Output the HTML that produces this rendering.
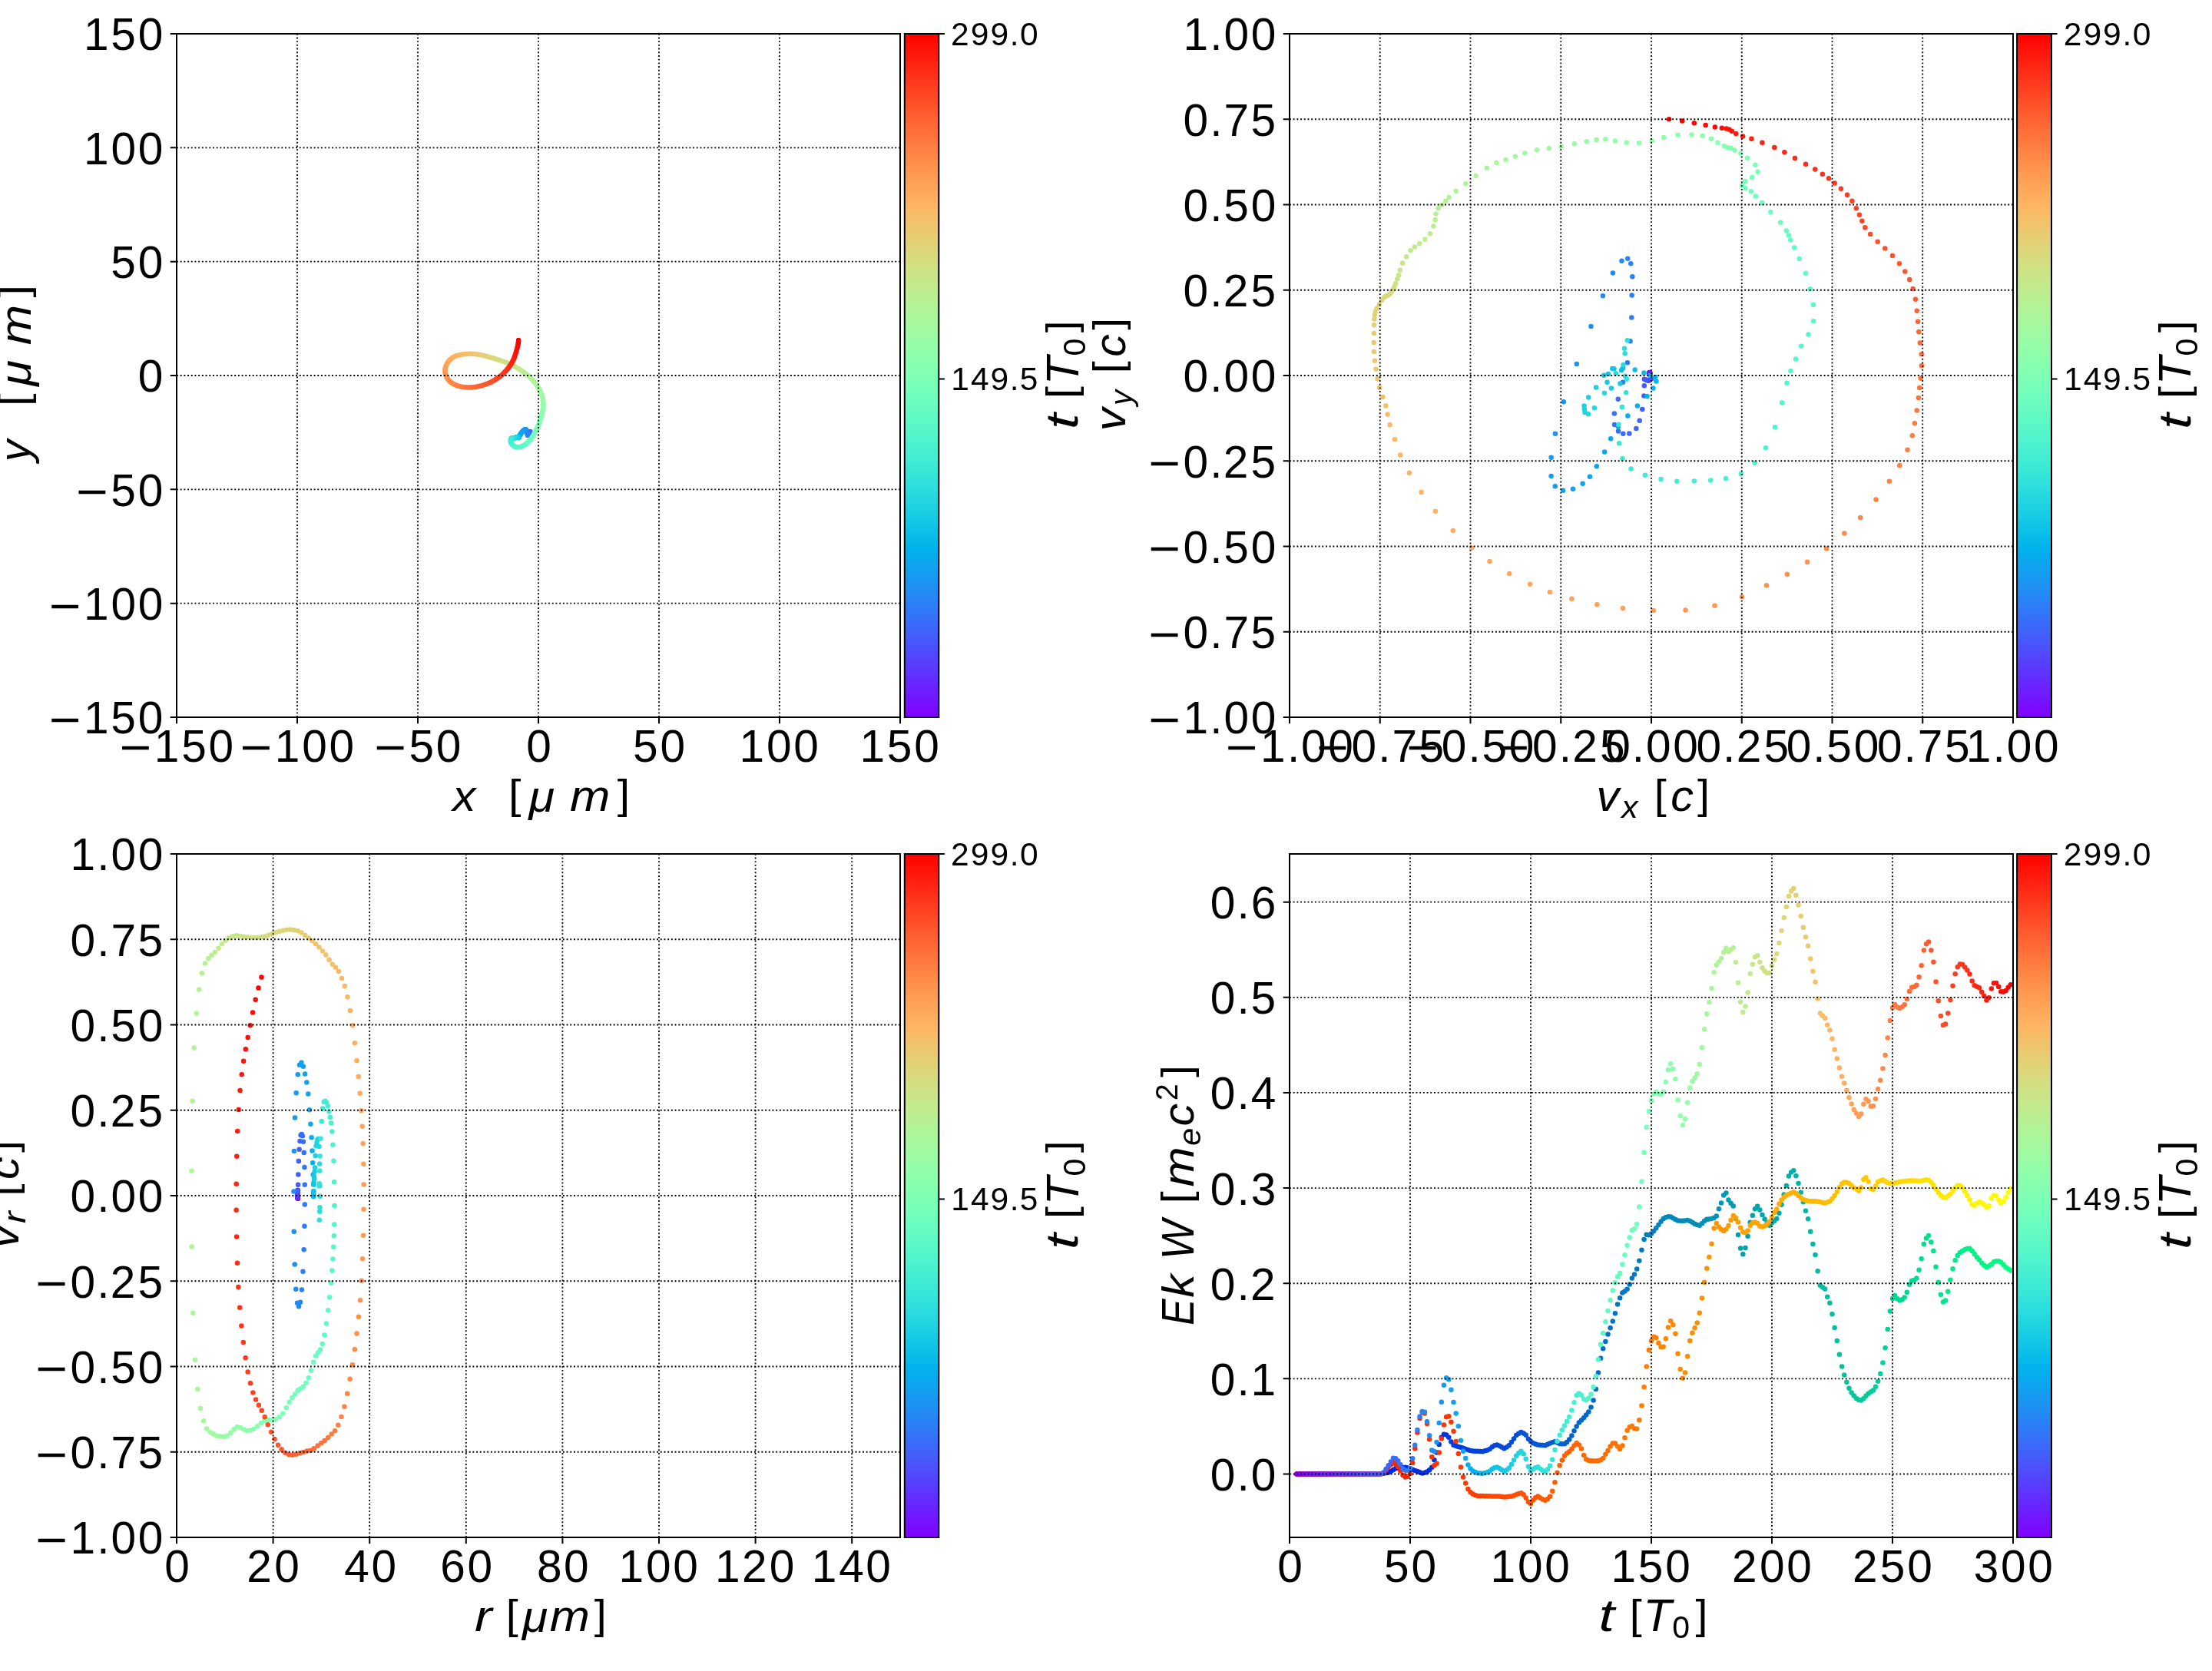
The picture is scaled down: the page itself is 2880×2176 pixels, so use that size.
<!DOCTYPE html>
<html lang="en"><head><meta charset="utf-8"><title>Particle trajectory, velocity and energy</title>
<style>
html,body{margin:0;padding:0;background:#fff}
body{width:2880px;height:2176px;overflow:hidden;font-family:"Liberation Sans",sans-serif}
svg{display:block;will-change:transform}
.grid{fill:none;stroke:#000;stroke-width:1.8;stroke-dasharray:1.9 2.8}
.tick{fill:none;stroke:#000;stroke-width:2}
.spine{stroke:#000;stroke-width:2}
rect.spine:not([fill]){fill:none}
text{white-space:pre}
</style></head>
<body>
<svg width="2880" height="2176" viewBox="0 0 2880 2176" font-family="'Liberation Sans', sans-serif" fill="#000">
<defs><linearGradient id="rb" x1="0" y1="0" x2="0" y2="1"><stop offset="0.00000" stop-color="#ff0000"/><stop offset="0.01562" stop-color="#ff0d06"/><stop offset="0.03125" stop-color="#ff190d"/><stop offset="0.04688" stop-color="#ff2513"/><stop offset="0.06250" stop-color="#ff3219"/><stop offset="0.07812" stop-color="#ff3e1f"/><stop offset="0.09375" stop-color="#ff4a25"/><stop offset="0.10938" stop-color="#ff562c"/><stop offset="0.12500" stop-color="#ff6232"/><stop offset="0.14062" stop-color="#ff6d38"/><stop offset="0.15625" stop-color="#ff783e"/><stop offset="0.17188" stop-color="#ff8344"/><stop offset="0.18750" stop-color="#ff8e4a"/><stop offset="0.20312" stop-color="#ff9850"/><stop offset="0.21875" stop-color="#ffa256"/><stop offset="0.23438" stop-color="#ffab5c"/><stop offset="0.25000" stop-color="#ffb462"/><stop offset="0.26562" stop-color="#f7bd67"/><stop offset="0.28125" stop-color="#efc56d"/><stop offset="0.29688" stop-color="#e7cd73"/><stop offset="0.31250" stop-color="#dfd478"/><stop offset="0.32812" stop-color="#d7db7e"/><stop offset="0.34375" stop-color="#cfe183"/><stop offset="0.35938" stop-color="#c7e788"/><stop offset="0.37500" stop-color="#bfec8e"/><stop offset="0.39062" stop-color="#b7f093"/><stop offset="0.40625" stop-color="#aff498"/><stop offset="0.42188" stop-color="#a7f79d"/><stop offset="0.43750" stop-color="#9ffaa2"/><stop offset="0.45312" stop-color="#97fca7"/><stop offset="0.46875" stop-color="#8ffeab"/><stop offset="0.48438" stop-color="#87ffb0"/><stop offset="0.50000" stop-color="#80ffb4"/><stop offset="0.51562" stop-color="#78ffb9"/><stop offset="0.53125" stop-color="#70febd"/><stop offset="0.54688" stop-color="#68fcc1"/><stop offset="0.56250" stop-color="#60fac5"/><stop offset="0.57812" stop-color="#58f7c9"/><stop offset="0.59375" stop-color="#50f4cd"/><stop offset="0.60938" stop-color="#48f0d0"/><stop offset="0.62500" stop-color="#40ecd4"/><stop offset="0.64062" stop-color="#38e7d7"/><stop offset="0.65625" stop-color="#30e1db"/><stop offset="0.67188" stop-color="#28dbde"/><stop offset="0.68750" stop-color="#20d4e1"/><stop offset="0.70312" stop-color="#18cde4"/><stop offset="0.71875" stop-color="#10c5e7"/><stop offset="0.73438" stop-color="#08bde9"/><stop offset="0.75000" stop-color="#00b4ec"/><stop offset="0.76562" stop-color="#08abee"/><stop offset="0.78125" stop-color="#10a2f0"/><stop offset="0.79688" stop-color="#1898f2"/><stop offset="0.81250" stop-color="#208ef4"/><stop offset="0.82812" stop-color="#2883f6"/><stop offset="0.84375" stop-color="#3078f7"/><stop offset="0.85938" stop-color="#386df9"/><stop offset="0.87500" stop-color="#4062fa"/><stop offset="0.89062" stop-color="#4856fb"/><stop offset="0.90625" stop-color="#504afc"/><stop offset="0.92188" stop-color="#583efd"/><stop offset="0.93750" stop-color="#6032fe"/><stop offset="0.95312" stop-color="#6825fe"/><stop offset="0.96875" stop-color="#7019ff"/><stop offset="0.98438" stop-color="#780dff"/><stop offset="1.00000" stop-color="#8000ff"/></linearGradient></defs>
<g id="ax1">
<g class="pts">
<circle cx="690.27" cy="562.88" r="3.25" fill="#8000ff"/>
<circle cx="690.25" cy="562.85" r="3.25" fill="#7e03ff"/>
<circle cx="690.23" cy="562.83" r="3.25" fill="#7c05ff"/>
<circle cx="690.22" cy="562.8" r="3.25" fill="#7a08ff"/>
<circle cx="690.21" cy="562.78" r="3.25" fill="#790bff"/>
<circle cx="690.19" cy="562.75" r="3.25" fill="#770eff"/>
<circle cx="690.18" cy="562.73" r="3.25" fill="#7510ff"/>
<circle cx="690.17" cy="562.71" r="3.25" fill="#7313ff"/>
<circle cx="690.15" cy="562.69" r="3.25" fill="#7216ff"/>
<circle cx="690.13" cy="562.67" r="3.25" fill="#7018ff"/>
<circle cx="690.12" cy="562.65" r="3.25" fill="#6e1bff"/>
<circle cx="690.11" cy="562.63" r="3.25" fill="#6d1eff"/>
<circle cx="690.1" cy="562.61" r="3.25" fill="#6b20fe"/>
<circle cx="690.08" cy="562.59" r="3.25" fill="#6923fe"/>
<circle cx="690.07" cy="562.58" r="3.25" fill="#6726fe"/>
<circle cx="690.05" cy="562.56" r="3.25" fill="#6628fe"/>
<circle cx="690.04" cy="562.55" r="3.25" fill="#642bfe"/>
<circle cx="690.02" cy="562.53" r="3.25" fill="#622efe"/>
<circle cx="690.01" cy="562.52" r="3.25" fill="#6030fe"/>
<circle cx="690" cy="562.52" r="3.25" fill="#5f33fe"/>
<circle cx="689.99" cy="562.51" r="3.25" fill="#5d36fe"/>
<circle cx="689.98" cy="562.52" r="3.25" fill="#5b38fd"/>
<circle cx="689.97" cy="562.52" r="3.25" fill="#5a3bfd"/>
<circle cx="689.97" cy="562.53" r="3.25" fill="#583efd"/>
<circle cx="689.96" cy="562.55" r="3.25" fill="#5640fd"/>
<circle cx="689.96" cy="562.57" r="3.25" fill="#5443fd"/>
<circle cx="689.96" cy="562.59" r="3.25" fill="#5345fd"/>
<circle cx="689.96" cy="562.61" r="3.25" fill="#5148fc"/>
<circle cx="689.95" cy="562.65" r="3.25" fill="#4f4bfc"/>
<circle cx="689.93" cy="562.69" r="3.25" fill="#4e4dfc"/>
<circle cx="689.91" cy="562.73" r="3.25" fill="#4c50fc"/>
<circle cx="689.87" cy="562.77" r="3.25" fill="#4a52fc"/>
<circle cx="689.82" cy="562.81" r="3.25" fill="#4855fb"/>
<circle cx="689.77" cy="562.84" r="3.25" fill="#4757fb"/>
<circle cx="689.7" cy="562.9" r="3.25" fill="#455afb"/>
<circle cx="689.64" cy="563.04" r="3.25" fill="#435dfb"/>
<circle cx="689.57" cy="563.27" r="3.25" fill="#415ffa"/>
<circle cx="689.48" cy="563.61" r="3.25" fill="#4062fa"/>
<circle cx="689.36" cy="564.04" r="3.25" fill="#3e64fa"/>
<circle cx="689.2" cy="564.52" r="3.25" fill="#3c67fa"/>
<circle cx="688.99" cy="565.02" r="3.25" fill="#3b69f9"/>
<circle cx="688.72" cy="565.52" r="3.25" fill="#396bf9"/>
<circle cx="688.42" cy="565.97" r="3.25" fill="#376ef9"/>
<circle cx="688.1" cy="566.35" r="3.25" fill="#3570f8"/>
<circle cx="687.79" cy="566.62" r="3.25" fill="#3473f8"/>
<circle cx="687.52" cy="566.75" r="3.25" fill="#3275f8"/>
<circle cx="687.3" cy="566.72" r="3.25" fill="#3078f7"/>
<circle cx="687.1" cy="566.52" r="3.25" fill="#2f7af7"/>
<circle cx="686.93" cy="566.12" r="3.25" fill="#2d7cf7"/>
<circle cx="686.76" cy="565.52" r="3.25" fill="#2b7ff6"/>
<circle cx="686.59" cy="564.74" r="3.25" fill="#2981f6"/>
<circle cx="686.42" cy="563.83" r="3.25" fill="#2883f6"/>
<circle cx="686.23" cy="562.83" r="3.25" fill="#2686f5"/>
<circle cx="686" cy="561.83" r="3.25" fill="#2488f5"/>
<circle cx="685.7" cy="560.89" r="3.25" fill="#228af5"/>
<circle cx="685.32" cy="560.09" r="3.25" fill="#218df4"/>
<circle cx="684.85" cy="559.54" r="3.25" fill="#1f8ff4"/>
<circle cx="684.26" cy="559.27" r="3.25" fill="#1d91f3"/>
<circle cx="683.56" cy="559.33" r="3.25" fill="#1c93f3"/>
<circle cx="682.76" cy="559.69" r="3.25" fill="#1a95f3"/>
<circle cx="681.91" cy="560.3" r="3.25" fill="#1898f2"/>
<circle cx="681.04" cy="561.08" r="3.25" fill="#169af2"/>
<circle cx="680.19" cy="561.99" r="3.25" fill="#159cf1"/>
<circle cx="679.39" cy="562.97" r="3.25" fill="#139ef1"/>
<circle cx="678.67" cy="563.96" r="3.25" fill="#11a0f0"/>
<circle cx="678.03" cy="564.91" r="3.25" fill="#10a2f0"/>
<circle cx="677.46" cy="565.82" r="3.25" fill="#0ea4f0"/>
<circle cx="676.96" cy="566.65" r="3.25" fill="#0ca6ef"/>
<circle cx="676.52" cy="567.37" r="3.25" fill="#0aa8ef"/>
<circle cx="676.14" cy="567.97" r="3.25" fill="#09aaee"/>
<circle cx="675.82" cy="568.46" r="3.25" fill="#07acee"/>
<circle cx="675.57" cy="568.85" r="3.25" fill="#05aeed"/>
<circle cx="675.41" cy="569.15" r="3.25" fill="#03b0ed"/>
<circle cx="675.33" cy="569.37" r="3.25" fill="#02b2ec"/>
<circle cx="675.32" cy="569.51" r="3.25" fill="#00b4ec"/>
<circle cx="675.35" cy="569.59" r="3.25" fill="#02b6eb"/>
<circle cx="675.39" cy="569.61" r="3.25" fill="#03b8eb"/>
<circle cx="675.4" cy="569.62" r="3.25" fill="#05baea"/>
<circle cx="675.37" cy="569.6" r="3.25" fill="#07bce9"/>
<circle cx="675.26" cy="569.56" r="3.25" fill="#09bee9"/>
<circle cx="675.07" cy="569.5" r="3.25" fill="#0abfe8"/>
<circle cx="674.82" cy="569.44" r="3.25" fill="#0cc1e8"/>
<circle cx="674.52" cy="569.38" r="3.25" fill="#0ec3e7"/>
<circle cx="674.19" cy="569.32" r="3.25" fill="#10c5e7"/>
<circle cx="673.84" cy="569.28" r="3.25" fill="#11c6e6"/>
<circle cx="673.44" cy="569.26" r="3.25" fill="#13c8e5"/>
<circle cx="673.05" cy="569.29" r="3.25" fill="#15cae5"/>
<circle cx="672.72" cy="569.34" r="3.25" fill="#16cbe4"/>
<circle cx="672.41" cy="569.43" r="3.25" fill="#18cde4"/>
<circle cx="672" cy="569.53" r="3.25" fill="#1acfe3"/>
<circle cx="671.48" cy="569.67" r="3.25" fill="#1cd0e2"/>
<circle cx="670.92" cy="569.89" r="3.25" fill="#1dd2e2"/>
<circle cx="670.34" cy="570.17" r="3.25" fill="#1fd3e1"/>
<circle cx="669.76" cy="570.47" r="3.25" fill="#21d5e1"/>
<circle cx="669.2" cy="570.79" r="3.25" fill="#22d6e0"/>
<circle cx="668.68" cy="571.09" r="3.25" fill="#24d8df"/>
<circle cx="668.23" cy="571.31" r="3.25" fill="#26d9df"/>
<circle cx="667.87" cy="571.37" r="3.25" fill="#28dbde"/>
<circle cx="667.59" cy="571.3" r="3.25" fill="#29dcdd"/>
<circle cx="667.36" cy="571.14" r="3.25" fill="#2bdddd"/>
<circle cx="667.13" cy="570.91" r="3.25" fill="#2ddfdc"/>
<circle cx="666.9" cy="570.62" r="3.25" fill="#2fe0db"/>
<circle cx="666.69" cy="570.46" r="3.25" fill="#30e1db"/>
<circle cx="666.47" cy="570.46" r="3.25" fill="#32e2da"/>
<circle cx="666.25" cy="570.54" r="3.25" fill="#34e4d9"/>
<circle cx="666.01" cy="570.73" r="3.25" fill="#35e5d8"/>
<circle cx="665.74" cy="571.07" r="3.25" fill="#37e6d8"/>
<circle cx="665.46" cy="571.56" r="3.25" fill="#39e7d7"/>
<circle cx="665.2" cy="572.2" r="3.25" fill="#3be8d6"/>
<circle cx="664.98" cy="572.95" r="3.25" fill="#3ce9d6"/>
<circle cx="664.87" cy="573.77" r="3.25" fill="#3eebd5"/>
<circle cx="664.88" cy="574.64" r="3.25" fill="#40ecd4"/>
<circle cx="665.04" cy="575.53" r="3.25" fill="#41edd3"/>
<circle cx="665.33" cy="576.44" r="3.25" fill="#43eed3"/>
<circle cx="665.78" cy="577.34" r="3.25" fill="#45efd2"/>
<circle cx="666.36" cy="578.22" r="3.25" fill="#47f0d1"/>
<circle cx="667.07" cy="579.08" r="3.25" fill="#48f0d0"/>
<circle cx="667.91" cy="579.87" r="3.25" fill="#4af1cf"/>
<circle cx="668.86" cy="580.68" r="3.25" fill="#4cf2cf"/>
<circle cx="669.89" cy="581.33" r="3.25" fill="#4ef3ce"/>
<circle cx="670.99" cy="581.78" r="3.25" fill="#4ff4cd"/>
<circle cx="672.15" cy="582.05" r="3.25" fill="#51f5cc"/>
<circle cx="673.34" cy="582.17" r="3.25" fill="#53f5cb"/>
<circle cx="674.58" cy="582.19" r="3.25" fill="#54f6cb"/>
<circle cx="675.85" cy="582.11" r="3.25" fill="#56f7ca"/>
<circle cx="677.19" cy="581.91" r="3.25" fill="#58f7c9"/>
<circle cx="678.57" cy="581.5" r="3.25" fill="#5af8c8"/>
<circle cx="679.98" cy="580.95" r="3.25" fill="#5bf9c7"/>
<circle cx="681.41" cy="580.27" r="3.25" fill="#5df9c6"/>
<circle cx="682.81" cy="579.45" r="3.25" fill="#5ffac6"/>
<circle cx="684.17" cy="578.5" r="3.25" fill="#60fac5"/>
<circle cx="685.48" cy="577.44" r="3.25" fill="#62fbc4"/>
<circle cx="686.74" cy="576.29" r="3.25" fill="#64fbc3"/>
<circle cx="687.99" cy="575.1" r="3.25" fill="#66fcc2"/>
<circle cx="689.21" cy="573.86" r="3.25" fill="#67fcc1"/>
<circle cx="690.4" cy="572.57" r="3.25" fill="#69fdc0"/>
<circle cx="691.52" cy="571.19" r="3.25" fill="#6bfdbf"/>
<circle cx="692.56" cy="569.73" r="3.25" fill="#6dfdbf"/>
<circle cx="693.54" cy="568.2" r="3.25" fill="#6efebe"/>
<circle cx="694.47" cy="566.63" r="3.25" fill="#70febd"/>
<circle cx="695.35" cy="565.02" r="3.25" fill="#72febc"/>
<circle cx="696.2" cy="563.38" r="3.25" fill="#73febb"/>
<circle cx="697.04" cy="561.71" r="3.25" fill="#75feba"/>
<circle cx="697.93" cy="560.01" r="3.25" fill="#77ffb9"/>
<circle cx="698.87" cy="558.26" r="3.25" fill="#79ffb8"/>
<circle cx="699.82" cy="556.47" r="3.25" fill="#7affb7"/>
<circle cx="700.74" cy="554.32" r="3.25" fill="#7cffb6"/>
<circle cx="701.58" cy="552.12" r="3.25" fill="#7effb5"/>
<circle cx="702.38" cy="549.89" r="3.25" fill="#80ffb4"/>
<circle cx="703.12" cy="547.64" r="3.25" fill="#81ffb3"/>
<circle cx="703.84" cy="545.37" r="3.25" fill="#83ffb2"/>
<circle cx="704.54" cy="543.1" r="3.25" fill="#85ffb1"/>
<circle cx="705.18" cy="540.8" r="3.25" fill="#86ffb0"/>
<circle cx="705.78" cy="538.47" r="3.25" fill="#88ffaf"/>
<circle cx="706.3" cy="536.12" r="3.25" fill="#8afeae"/>
<circle cx="706.74" cy="534.02" r="3.25" fill="#8cfead"/>
<circle cx="707.07" cy="531.93" r="3.25" fill="#8dfeac"/>
<circle cx="707.28" cy="529.84" r="3.25" fill="#8ffeab"/>
<circle cx="707.38" cy="527.78" r="3.25" fill="#91feaa"/>
<circle cx="707.38" cy="525.74" r="3.25" fill="#92fda9"/>
<circle cx="707.26" cy="523.71" r="3.25" fill="#94fda8"/>
<circle cx="707.04" cy="521.67" r="3.25" fill="#96fda7"/>
<circle cx="706.72" cy="519.62" r="3.25" fill="#98fca6"/>
<circle cx="706.26" cy="517.56" r="3.25" fill="#99fca5"/>
<circle cx="705.72" cy="515.52" r="3.25" fill="#9bfba4"/>
<circle cx="705.08" cy="513.49" r="3.25" fill="#9dfba3"/>
<circle cx="704.33" cy="511.48" r="3.25" fill="#9ffaa2"/>
<circle cx="703.47" cy="509.49" r="3.25" fill="#a0faa1"/>
<circle cx="702.5" cy="507.52" r="3.25" fill="#a2f9a0"/>
<circle cx="701.43" cy="505.56" r="3.25" fill="#a4f99f"/>
<circle cx="700.27" cy="503.64" r="3.25" fill="#a5f89e"/>
<circle cx="699.02" cy="501.74" r="3.25" fill="#a7f79d"/>
<circle cx="697.69" cy="499.87" r="3.25" fill="#a9f79c"/>
<circle cx="696.28" cy="498.04" r="3.25" fill="#abf69b"/>
<circle cx="694.78" cy="496.27" r="3.25" fill="#acf59a"/>
<circle cx="693.19" cy="494.56" r="3.25" fill="#aef599"/>
<circle cx="691.58" cy="492.92" r="3.25" fill="#b0f498"/>
<circle cx="689.9" cy="491.34" r="3.25" fill="#b1f397"/>
<circle cx="688.18" cy="489.8" r="3.25" fill="#b3f295"/>
<circle cx="686.43" cy="488.3" r="3.25" fill="#b5f194"/>
<circle cx="684.64" cy="486.83" r="3.25" fill="#b7f093"/>
<circle cx="682.83" cy="485.39" r="3.25" fill="#b8f092"/>
<circle cx="681" cy="484.01" r="3.25" fill="#baef91"/>
<circle cx="679.17" cy="482.68" r="3.25" fill="#bcee90"/>
<circle cx="677.31" cy="481.41" r="3.25" fill="#beed8f"/>
<circle cx="675.42" cy="480.2" r="3.25" fill="#bfec8e"/>
<circle cx="673.48" cy="479.03" r="3.25" fill="#c1eb8d"/>
<circle cx="671.49" cy="477.9" r="3.25" fill="#c3e98b"/>
<circle cx="669.47" cy="476.79" r="3.25" fill="#c4e88a"/>
<circle cx="667.41" cy="475.73" r="3.25" fill="#c6e789"/>
<circle cx="665.31" cy="474.72" r="3.25" fill="#c8e688"/>
<circle cx="663.19" cy="473.77" r="3.25" fill="#cae587"/>
<circle cx="661.05" cy="472.87" r="3.25" fill="#cbe486"/>
<circle cx="658.9" cy="472.01" r="3.25" fill="#cde285"/>
<circle cx="656.74" cy="471.18" r="3.25" fill="#cfe183"/>
<circle cx="654.56" cy="470.39" r="3.25" fill="#d0e082"/>
<circle cx="652.38" cy="469.63" r="3.25" fill="#d2df81"/>
<circle cx="650.18" cy="468.88" r="3.25" fill="#d4dd80"/>
<circle cx="647.97" cy="468.16" r="3.25" fill="#d6dc7f"/>
<circle cx="645.74" cy="467.46" r="3.25" fill="#d7db7e"/>
<circle cx="643.49" cy="466.77" r="3.25" fill="#d9d97c"/>
<circle cx="641.23" cy="466.08" r="3.25" fill="#dbd87b"/>
<circle cx="638.95" cy="465.42" r="3.25" fill="#ddd67a"/>
<circle cx="636.65" cy="464.78" r="3.25" fill="#ded579"/>
<circle cx="634.32" cy="464.18" r="3.25" fill="#e0d378"/>
<circle cx="631.98" cy="463.61" r="3.25" fill="#e2d276"/>
<circle cx="629.63" cy="463.07" r="3.25" fill="#e3d075"/>
<circle cx="627.28" cy="462.56" r="3.25" fill="#e5cf74"/>
<circle cx="624.92" cy="462.1" r="3.25" fill="#e7cd73"/>
<circle cx="622.56" cy="461.69" r="3.25" fill="#e9cb72"/>
<circle cx="620.2" cy="461.37" r="3.25" fill="#eaca70"/>
<circle cx="617.84" cy="461.12" r="3.25" fill="#ecc86f"/>
<circle cx="615.49" cy="460.95" r="3.25" fill="#eec66e"/>
<circle cx="613.14" cy="460.86" r="3.25" fill="#efc56d"/>
<circle cx="610.8" cy="460.85" r="3.25" fill="#f1c36b"/>
<circle cx="608.48" cy="460.92" r="3.25" fill="#f3c16a"/>
<circle cx="606.18" cy="461.06" r="3.25" fill="#f5bf69"/>
<circle cx="603.91" cy="461.29" r="3.25" fill="#f6be68"/>
<circle cx="601.67" cy="461.59" r="3.25" fill="#f8bc67"/>
<circle cx="599.43" cy="461.97" r="3.25" fill="#faba65"/>
<circle cx="597.23" cy="462.46" r="3.25" fill="#fcb864"/>
<circle cx="595.08" cy="463.08" r="3.25" fill="#fdb663"/>
<circle cx="592.99" cy="463.85" r="3.25" fill="#ffb462"/>
<circle cx="590.99" cy="464.78" r="3.25" fill="#ffb260"/>
<circle cx="589.1" cy="465.87" r="3.25" fill="#ffb05f"/>
<circle cx="587.35" cy="467.14" r="3.25" fill="#ffae5e"/>
<circle cx="585.76" cy="468.56" r="3.25" fill="#ffac5d"/>
<circle cx="584.32" cy="470.11" r="3.25" fill="#ffaa5b"/>
<circle cx="583.05" cy="471.78" r="3.25" fill="#ffa85a"/>
<circle cx="581.96" cy="473.54" r="3.25" fill="#ffa659"/>
<circle cx="581.04" cy="475.39" r="3.25" fill="#ffa457"/>
<circle cx="580.3" cy="477.3" r="3.25" fill="#ffa256"/>
<circle cx="579.77" cy="479.26" r="3.25" fill="#ffa055"/>
<circle cx="579.46" cy="481.27" r="3.25" fill="#ff9e54"/>
<circle cx="579.39" cy="483.3" r="3.25" fill="#ff9c52"/>
<circle cx="579.55" cy="485.34" r="3.25" fill="#ff9a51"/>
<circle cx="579.98" cy="487.35" r="3.25" fill="#ff9850"/>
<circle cx="580.64" cy="489.31" r="3.25" fill="#ff954f"/>
<circle cx="581.54" cy="491.18" r="3.25" fill="#ff934d"/>
<circle cx="582.63" cy="492.96" r="3.25" fill="#ff914c"/>
<circle cx="583.89" cy="494.63" r="3.25" fill="#ff8f4b"/>
<circle cx="585.33" cy="496.19" r="3.25" fill="#ff8d49"/>
<circle cx="586.93" cy="497.63" r="3.25" fill="#ff8a48"/>
<circle cx="588.67" cy="498.93" r="3.25" fill="#ff8847"/>
<circle cx="590.55" cy="500.08" r="3.25" fill="#ff8645"/>
<circle cx="592.56" cy="501.08" r="3.25" fill="#ff8344"/>
<circle cx="594.67" cy="501.93" r="3.25" fill="#ff8143"/>
<circle cx="596.86" cy="502.64" r="3.25" fill="#ff7f42"/>
<circle cx="599.11" cy="503.23" r="3.25" fill="#ff7c40"/>
<circle cx="601.38" cy="503.7" r="3.25" fill="#ff7a3f"/>
<circle cx="603.68" cy="504.05" r="3.25" fill="#ff783e"/>
<circle cx="605.99" cy="504.3" r="3.25" fill="#ff753c"/>
<circle cx="608.31" cy="504.45" r="3.25" fill="#ff733b"/>
<circle cx="610.65" cy="504.52" r="3.25" fill="#ff703a"/>
<circle cx="612.99" cy="504.49" r="3.25" fill="#ff6e38"/>
<circle cx="615.33" cy="504.35" r="3.25" fill="#ff6b37"/>
<circle cx="617.67" cy="504.12" r="3.25" fill="#ff6936"/>
<circle cx="620" cy="503.78" r="3.25" fill="#ff6734"/>
<circle cx="622.32" cy="503.36" r="3.25" fill="#ff6433"/>
<circle cx="624.63" cy="502.85" r="3.25" fill="#ff6232"/>
<circle cx="626.93" cy="502.23" r="3.25" fill="#ff5f30"/>
<circle cx="629.21" cy="501.53" r="3.25" fill="#ff5d2f"/>
<circle cx="631.46" cy="500.73" r="3.25" fill="#ff5a2e"/>
<circle cx="633.69" cy="499.94" r="3.25" fill="#ff572c"/>
<circle cx="635.86" cy="499.09" r="3.25" fill="#ff552b"/>
<circle cx="637.99" cy="498.16" r="3.25" fill="#ff522a"/>
<circle cx="640.05" cy="497.17" r="3.25" fill="#ff5028"/>
<circle cx="642.04" cy="496.12" r="3.25" fill="#ff4d27"/>
<circle cx="643.98" cy="495" r="3.25" fill="#ff4b26"/>
<circle cx="645.85" cy="493.83" r="3.25" fill="#ff4824"/>
<circle cx="647.7" cy="492.59" r="3.25" fill="#ff4523"/>
<circle cx="649.51" cy="491.31" r="3.25" fill="#ff4322"/>
<circle cx="651.31" cy="489.96" r="3.25" fill="#ff4020"/>
<circle cx="653.04" cy="488.47" r="3.25" fill="#ff3e1f"/>
<circle cx="654.73" cy="486.92" r="3.25" fill="#ff3b1e"/>
<circle cx="656.37" cy="485.31" r="3.25" fill="#ff381c"/>
<circle cx="657.95" cy="483.66" r="3.25" fill="#ff361b"/>
<circle cx="659.49" cy="481.96" r="3.25" fill="#ff331a"/>
<circle cx="660.97" cy="480.22" r="3.25" fill="#ff3018"/>
<circle cx="662.39" cy="478.44" r="3.25" fill="#ff2e17"/>
<circle cx="663.74" cy="476.62" r="3.25" fill="#ff2b16"/>
<circle cx="665" cy="474.75" r="3.25" fill="#ff2814"/>
<circle cx="666.17" cy="472.83" r="3.25" fill="#ff2613"/>
<circle cx="667.25" cy="470.86" r="3.25" fill="#ff2312"/>
<circle cx="668.23" cy="468.84" r="3.25" fill="#ff2010"/>
<circle cx="669.12" cy="466.77" r="3.25" fill="#ff1e0f"/>
<circle cx="669.92" cy="464.68" r="3.25" fill="#ff1b0e"/>
<circle cx="670.65" cy="462.57" r="3.25" fill="#ff180c"/>
<circle cx="671.34" cy="460.44" r="3.25" fill="#ff160b"/>
<circle cx="672" cy="458.29" r="3.25" fill="#ff1309"/>
<circle cx="672.63" cy="456.12" r="3.25" fill="#ff1008"/>
<circle cx="673.23" cy="453.96" r="3.25" fill="#ff0e07"/>
<circle cx="673.78" cy="451.78" r="3.25" fill="#ff0b05"/>
<circle cx="674.26" cy="449.59" r="3.25" fill="#ff0804"/>
<circle cx="674.65" cy="447.39" r="3.25" fill="#ff0503"/>
<circle cx="674.94" cy="445.16" r="3.25" fill="#ff0301"/>
<circle cx="675.12" cy="442.92" r="3.25" fill="#ff0000"/>
</g>
<path d="M230 934V44M387 934V44M544 934V44M701 934V44M858 934V44M1015 934V44M1172 934V44M230 934H1172M230 785.67H1172M230 637.33H1172M230 489H1172M230 340.67H1172M230 192.33H1172M230 44H1172" class="grid"/>
<path d="M230 934v8.3M387 934v8.3M544 934v8.3M701 934v8.3M858 934v8.3M1015 934v8.3M1172 934v8.3M230 934h-8.3M230 785.67h-8.3M230 637.33h-8.3M230 489h-8.3M230 340.67h-8.3M230 192.33h-8.3M230 44h-8.3" class="tick"/>
<rect x="230" y="44" width="942" height="890" class="spine"/>
<text transform="matrix(0.7168 0 0 0.6304 155.59 995.31)" font-size="100">−</text>
<text transform="matrix(0.5859 0 0 0.5932 153.36 991.8)" font-size="100" x="81.07 141.3 201.69">150</text>
<text transform="matrix(0.7168 0 0 0.6304 312.59 995.31)" font-size="100">−</text>
<text transform="matrix(0.5859 0 0 0.5932 310.36 991.8)" font-size="100" x="81.07 141.53 201.69">100</text>
<text transform="matrix(0.7168 0 0 0.6304 487.18 995.31)" font-size="100">−</text>
<text transform="matrix(0.5859 0 0 0.5932 484.94 991.8)" font-size="100" x="81.14 141.53">50</text>
<text transform="matrix(0.5859 0 0 0.5932 683.91 991.8)" font-size="100" x="2.15">0</text>
<text transform="matrix(0.5859 0 0 0.5932 822.91 991.8)" font-size="100" x="1.92 62.31">50</text>
<text transform="matrix(0.5859 0 0 0.5932 961.42 991.8)" font-size="100" x="1.84 62.31 122.47">100</text>
<text transform="matrix(0.5859 0 0 0.5932 1118.42 991.8)" font-size="100" x="1.84 62.08 122.47">150</text>
<text transform="matrix(0.7168 0 0 0.6304 63.77 958.95)" font-size="100">−</text>
<text transform="matrix(0.5859 0 0 0.5932 61.54 955.45)" font-size="100" x="81.07 141.3 201.69">150</text>
<text transform="matrix(0.7168 0 0 0.6304 63.77 810.62)" font-size="100">−</text>
<text transform="matrix(0.5859 0 0 0.5932 61.54 807.12)" font-size="100" x="81.07 141.53 201.69">100</text>
<text transform="matrix(0.7168 0 0 0.6304 99.02 662.29)" font-size="100">−</text>
<text transform="matrix(0.5859 0 0 0.5932 96.78 658.79)" font-size="100" x="81.14 141.53">50</text>
<text transform="matrix(0.5859 0 0 0.5932 178.45 510.45)" font-size="100" x="2.15">0</text>
<text transform="matrix(0.5859 0 0 0.5932 143.2 362.12)" font-size="100" x="1.92 62.31">50</text>
<text transform="matrix(0.5859 0 0 0.5932 107.96 213.79)" font-size="100" x="1.84 62.31 122.47">100</text>
<text transform="matrix(0.5859 0 0 0.5932 107.96 65.45)" font-size="100" x="1.84 62.08 122.47">150</text>
<rect x="1177.8" y="44" width="44.5" height="890" fill="url(#rb)" class="spine"/>
<path d="M1222.3 44h7.6M1222.3 493.51h7.6" class="tick"/>
<text transform="matrix(0.4252 0 0 0.4304 1237.5 58.92)" font-size="100" x="1.09 61.95 122.11 181.62 212.68">299.0</text>
<text transform="matrix(0.4252 0 0 0.4304 1237.5 508.43)" font-size="100" x="1.84 62.33 122.11 181.62 212.46">149.5</text>
<g transform="translate(1403.3 559.39) rotate(-90)">
<text transform="matrix(0.7404 0 0 0.5942 0.27 -0.36)" font-size="100" font-style="italic">t</text>
<text transform="matrix(0.5748 0 0 0.5302 40.38 -3.43)" font-size="100">[</text>
<text transform="matrix(0.6041 0 0 0.5882 58.21 0.23)" font-size="100" font-style="italic">T</text>
<text transform="matrix(0.4101 0 0 0.4152 96 9.42)" font-size="100">0</text>
<text transform="matrix(0.5748 0 0 0.5302 126.26 -3.43)" font-size="100">]</text>
</g>
</g>
<g id="ax2">
<g class="pts">
<circle cx="2147.93" cy="485" r="3.25" fill="#8000ff"/>
<circle cx="2147.6" cy="485.1" r="3.25" fill="#7e03ff"/>
<circle cx="2147.52" cy="485.21" r="3.25" fill="#7c05ff"/>
<circle cx="2147.78" cy="485.32" r="3.25" fill="#7a08ff"/>
<circle cx="2148.13" cy="485.43" r="3.25" fill="#790bff"/>
<circle cx="2148.25" cy="485.54" r="3.25" fill="#770eff"/>
<circle cx="2148.04" cy="485.65" r="3.25" fill="#7510ff"/>
<circle cx="2147.68" cy="485.76" r="3.25" fill="#7313ff"/>
<circle cx="2147.5" cy="485.87" r="3.25" fill="#7216ff"/>
<circle cx="2147.68" cy="485.98" r="3.25" fill="#7018ff"/>
<circle cx="2148.04" cy="486.09" r="3.25" fill="#6e1bff"/>
<circle cx="2148.25" cy="486.2" r="3.25" fill="#6d1eff"/>
<circle cx="2148.13" cy="486.31" r="3.25" fill="#6b20fe"/>
<circle cx="2147.77" cy="486.42" r="3.25" fill="#6923fe"/>
<circle cx="2147.52" cy="486.53" r="3.25" fill="#6726fe"/>
<circle cx="2147.6" cy="486.64" r="3.25" fill="#6628fe"/>
<circle cx="2147.94" cy="486.75" r="3.25" fill="#642bfe"/>
<circle cx="2148.04" cy="487.25" r="3.25" fill="#622efe"/>
<circle cx="2148.23" cy="487.85" r="3.25" fill="#6030fe"/>
<circle cx="2148.43" cy="488.45" r="3.25" fill="#5f33fe"/>
<circle cx="2148.63" cy="489.05" r="3.25" fill="#5d36fe"/>
<circle cx="2148.82" cy="489.64" r="3.25" fill="#5b38fd"/>
<circle cx="2149.02" cy="490.24" r="3.25" fill="#5a3bfd"/>
<circle cx="2149.22" cy="490.84" r="3.25" fill="#583efd"/>
<circle cx="2149.41" cy="491.44" r="3.25" fill="#5640fd"/>
<circle cx="2149.61" cy="492.03" r="3.25" fill="#5443fd"/>
<circle cx="2149.8" cy="492.63" r="3.25" fill="#5345fd"/>
<circle cx="2150" cy="493.23" r="3.25" fill="#5148fc"/>
<circle cx="2148.35" cy="494.56" r="3.25" fill="#4f4bfc"/>
<circle cx="2146.61" cy="495.81" r="3.25" fill="#4e4dfc"/>
<circle cx="2145.05" cy="495.45" r="3.25" fill="#4c50fc"/>
<circle cx="2143.64" cy="494.92" r="3.25" fill="#4a52fc"/>
<circle cx="2142.23" cy="494.34" r="3.25" fill="#4855fb"/>
<circle cx="2140.91" cy="493.72" r="3.25" fill="#4757fb"/>
<circle cx="2140.82" cy="502.17" r="3.25" fill="#455afb"/>
<circle cx="2140.44" cy="515.39" r="3.25" fill="#435dfb"/>
<circle cx="2138.32" cy="532.88" r="3.25" fill="#415ffa"/>
<circle cx="2134.74" cy="547.74" r="3.25" fill="#4062fa"/>
<circle cx="2130.31" cy="557.93" r="3.25" fill="#3e64fa"/>
<circle cx="2121.36" cy="564.52" r="3.25" fill="#3c67fa"/>
<circle cx="2113.26" cy="564.78" r="3.25" fill="#3b69f9"/>
<circle cx="2107.04" cy="561.4" r="3.25" fill="#396bf9"/>
<circle cx="2102.05" cy="553.12" r="3.25" fill="#376ef9"/>
<circle cx="2101.82" cy="538.53" r="3.25" fill="#3570f8"/>
<circle cx="2106.72" cy="519.79" r="3.25" fill="#3473f8"/>
<circle cx="2113.03" cy="497.63" r="3.25" fill="#3275f8"/>
<circle cx="2118.96" cy="472.36" r="3.25" fill="#3078f7"/>
<circle cx="2122.54" cy="444.23" r="3.25" fill="#2f7af7"/>
<circle cx="2124.33" cy="413.62" r="3.25" fill="#2d7cf7"/>
<circle cx="2124.71" cy="384.51" r="3.25" fill="#2b7ff6"/>
<circle cx="2125.32" cy="360.31" r="3.25" fill="#2981f6"/>
<circle cx="2123.29" cy="343.31" r="3.25" fill="#2883f6"/>
<circle cx="2119.24" cy="336.68" r="3.25" fill="#2686f5"/>
<circle cx="2111.47" cy="339.66" r="3.25" fill="#2488f5"/>
<circle cx="2099.89" cy="355.41" r="3.25" fill="#228af5"/>
<circle cx="2086.89" cy="385.23" r="3.25" fill="#218df4"/>
<circle cx="2071.48" cy="425.01" r="3.25" fill="#1f8ff4"/>
<circle cx="2052.79" cy="473.91" r="3.25" fill="#1d91f3"/>
<circle cx="2035.83" cy="523.18" r="3.25" fill="#1c93f3"/>
<circle cx="2024.95" cy="564.78" r="3.25" fill="#1a95f3"/>
<circle cx="2019.63" cy="595.71" r="3.25" fill="#1898f2"/>
<circle cx="2019.63" cy="619.92" r="3.25" fill="#169af2"/>
<circle cx="2024.71" cy="633.36" r="3.25" fill="#159cf1"/>
<circle cx="2035.12" cy="638.83" r="3.25" fill="#139ef1"/>
<circle cx="2047.98" cy="636.7" r="3.25" fill="#11a0f0"/>
<circle cx="2060.65" cy="629.84" r="3.25" fill="#10a2f0"/>
<circle cx="2069.93" cy="620.76" r="3.25" fill="#0ea4f0"/>
<circle cx="2078.78" cy="607.33" r="3.25" fill="#0ca6ef"/>
<circle cx="2089.15" cy="588.5" r="3.25" fill="#0aa8ef"/>
<circle cx="2097.15" cy="571.37" r="3.25" fill="#09aaee"/>
<circle cx="2106.81" cy="555.75" r="3.25" fill="#07acee"/>
<circle cx="2119.34" cy="541.38" r="3.25" fill="#05aeed"/>
<circle cx="2131.87" cy="528.56" r="3.25" fill="#03b0ed"/>
<circle cx="2144.58" cy="516.01" r="3.25" fill="#02b2ec"/>
<circle cx="2152.36" cy="505.42" r="3.25" fill="#00b4ec"/>
<circle cx="2156.45" cy="496.56" r="3.25" fill="#02b6eb"/>
<circle cx="2155.23" cy="491" r="3.25" fill="#03b8eb"/>
<circle cx="2148.4" cy="489.22" r="3.25" fill="#05baea"/>
<circle cx="2140.44" cy="485.53" r="3.25" fill="#07bce9"/>
<circle cx="2128.66" cy="481.61" r="3.25" fill="#09bee9"/>
<circle cx="2113.03" cy="479.52" r="3.25" fill="#0abfe8"/>
<circle cx="2111" cy="482.1" r="3.25" fill="#0cc1e8"/>
<circle cx="2101.44" cy="480.32" r="3.25" fill="#0ec3e7"/>
<circle cx="2099.32" cy="480.1" r="3.25" fill="#10c5e7"/>
<circle cx="2093.81" cy="487" r="3.25" fill="#11c6e6"/>
<circle cx="2088.2" cy="488.64" r="3.25" fill="#13c8e5"/>
<circle cx="2092.49" cy="497.63" r="3.25" fill="#15cae5"/>
<circle cx="2109.45" cy="499.41" r="3.25" fill="#16cbe4"/>
<circle cx="2097.86" cy="505.42" r="3.25" fill="#18cde4"/>
<circle cx="2078.08" cy="504.49" r="3.25" fill="#1acfe3"/>
<circle cx="2068.14" cy="517.39" r="3.25" fill="#1cd0e2"/>
<circle cx="2062.54" cy="528.56" r="3.25" fill="#1dd2e2"/>
<circle cx="2062.86" cy="533.06" r="3.25" fill="#1fd3e1"/>
<circle cx="2063.52" cy="536.97" r="3.25" fill="#21d5e1"/>
<circle cx="2067.9" cy="539.24" r="3.25" fill="#22d6e0"/>
<circle cx="2075.91" cy="531.32" r="3.25" fill="#24d8df"/>
<circle cx="2088.91" cy="511.65" r="3.25" fill="#26d9df"/>
<circle cx="2103.84" cy="486.24" r="3.25" fill="#28dbde"/>
<circle cx="2113.59" cy="474.98" r="3.25" fill="#29dcdd"/>
<circle cx="2115.66" cy="460.16" r="3.25" fill="#2bdddd"/>
<circle cx="2115.05" cy="453.76" r="3.25" fill="#2ddfdc"/>
<circle cx="2118.73" cy="443.3" r="3.25" fill="#2fe0db"/>
<circle cx="2115.99" cy="489.71" r="3.25" fill="#30e1db"/>
<circle cx="2117.78" cy="493.81" r="3.25" fill="#32e2da"/>
<circle cx="2117.17" cy="511.16" r="3.25" fill="#34e4d9"/>
<circle cx="2111.8" cy="529.98" r="3.25" fill="#35e5d8"/>
<circle cx="2107.42" cy="552.77" r="3.25" fill="#37e6d8"/>
<circle cx="2108.22" cy="577.33" r="3.25" fill="#39e7d7"/>
<circle cx="2112.41" cy="597.13" r="3.25" fill="#3be8d6"/>
<circle cx="2123.53" cy="610.57" r="3.25" fill="#3ce9d6"/>
<circle cx="2141.9" cy="618.72" r="3.25" fill="#3eebd5"/>
<circle cx="2162.53" cy="624.1" r="3.25" fill="#40ecd4"/>
<circle cx="2183.39" cy="626.73" r="3.25" fill="#41edd3"/>
<circle cx="2205.72" cy="626.5" r="3.25" fill="#43eed3"/>
<circle cx="2227.29" cy="625.44" r="3.25" fill="#45efd2"/>
<circle cx="2247.12" cy="623.35" r="3.25" fill="#47f0d1"/>
<circle cx="2266.81" cy="617.03" r="3.25" fill="#48f0d0"/>
<circle cx="2284.71" cy="602.74" r="3.25" fill="#4af1cf"/>
<circle cx="2298.98" cy="583.25" r="3.25" fill="#4cf2cf"/>
<circle cx="2311.13" cy="556.15" r="3.25" fill="#4ef3ce"/>
<circle cx="2320.17" cy="524.51" r="3.25" fill="#4ff4cd"/>
<circle cx="2326.53" cy="498.75" r="3.25" fill="#51f5cc"/>
<circle cx="2331.52" cy="482.9" r="3.25" fill="#53f5cb"/>
<circle cx="2338.07" cy="467.42" r="3.25" fill="#54f6cb"/>
<circle cx="2345.23" cy="450.82" r="3.25" fill="#56f7ca"/>
<circle cx="2354.46" cy="435.38" r="3.25" fill="#58f7c9"/>
<circle cx="2361.2" cy="418.2" r="3.25" fill="#5af8c8"/>
<circle cx="2360.82" cy="396.84" r="3.25" fill="#5bf9c7"/>
<circle cx="2356.77" cy="376.24" r="3.25" fill="#5df9c6"/>
<circle cx="2351.02" cy="355.63" r="3.25" fill="#5ffac6"/>
<circle cx="2342.69" cy="336.94" r="3.25" fill="#60fac5"/>
<circle cx="2336.14" cy="322.53" r="3.25" fill="#62fbc4"/>
<circle cx="2331.24" cy="312.47" r="3.25" fill="#64fbc3"/>
<circle cx="2329.07" cy="306.59" r="3.25" fill="#66fcc2"/>
<circle cx="2325.82" cy="300.45" r="3.25" fill="#67fcc1"/>
<circle cx="2318.19" cy="289.68" r="3.25" fill="#69fdc0"/>
<circle cx="2305.34" cy="275.89" r="3.25" fill="#6bfdbf"/>
<circle cx="2294.08" cy="263.92" r="3.25" fill="#6dfdbf"/>
<circle cx="2285.79" cy="255.46" r="3.25" fill="#6efebe"/>
<circle cx="2279.81" cy="249.32" r="3.25" fill="#70febd"/>
<circle cx="2272.51" cy="245.23" r="3.25" fill="#72febc"/>
<circle cx="2268.03" cy="241.8" r="3.25" fill="#73febb"/>
<circle cx="2272.08" cy="235.97" r="3.25" fill="#75feba"/>
<circle cx="2281.17" cy="230.9" r="3.25" fill="#77ffb9"/>
<circle cx="2288.52" cy="223.82" r="3.25" fill="#79ffb8"/>
<circle cx="2285.37" cy="214.84" r="3.25" fill="#7affb7"/>
<circle cx="2275.19" cy="205.71" r="3.25" fill="#7cffb6"/>
<circle cx="2266.38" cy="199.84" r="3.25" fill="#7effb5"/>
<circle cx="2258.24" cy="195.48" r="3.25" fill="#80ffb4"/>
<circle cx="2253.53" cy="193.03" r="3.25" fill="#81ffb3"/>
<circle cx="2249.71" cy="192.32" r="3.25" fill="#83ffb2"/>
<circle cx="2244.95" cy="190.27" r="3.25" fill="#85ffb1"/>
<circle cx="2236.57" cy="185.64" r="3.25" fill="#86ffb0"/>
<circle cx="2227.86" cy="180.75" r="3.25" fill="#88ffaf"/>
<circle cx="2216.6" cy="176.79" r="3.25" fill="#8afeae"/>
<circle cx="2202.38" cy="175.41" r="3.25" fill="#8cfead"/>
<circle cx="2184.48" cy="175.72" r="3.25" fill="#8dfeac"/>
<circle cx="2166.16" cy="179.1" r="3.25" fill="#8ffeab"/>
<circle cx="2150.94" cy="183.2" r="3.25" fill="#91feaa"/>
<circle cx="2134.08" cy="186.27" r="3.25" fill="#92fda9"/>
<circle cx="2117.69" cy="185.64" r="3.25" fill="#94fda8"/>
<circle cx="2102.85" cy="183.46" r="3.25" fill="#96fda7"/>
<circle cx="2090.32" cy="181.33" r="3.25" fill="#98fca6"/>
<circle cx="2078.69" cy="181.95" r="3.25" fill="#99fca5"/>
<circle cx="2065.79" cy="184.35" r="3.25" fill="#9bfba4"/>
<circle cx="2049.87" cy="187.33" r="3.25" fill="#9dfba3"/>
<circle cx="2032.63" cy="191.03" r="3.25" fill="#9ffaa2"/>
<circle cx="2016.9" cy="193.16" r="3.25" fill="#a0faa1"/>
<circle cx="2001.16" cy="195.3" r="3.25" fill="#a2f9a0"/>
<circle cx="1985.43" cy="199.39" r="3.25" fill="#a4f99f"/>
<circle cx="1972.95" cy="203.71" r="3.25" fill="#a5f89e"/>
<circle cx="1960.47" cy="208.03" r="3.25" fill="#a7f79d"/>
<circle cx="1948.41" cy="211.9" r="3.25" fill="#a9f79c"/>
<circle cx="1935.88" cy="218.8" r="3.25" fill="#abf69b"/>
<circle cx="1921.47" cy="228.94" r="3.25" fill="#acf59a"/>
<circle cx="1908.33" cy="239.27" r="3.25" fill="#aef599"/>
<circle cx="1895.61" cy="248.74" r="3.25" fill="#b0f498"/>
<circle cx="1886.57" cy="256.93" r="3.25" fill="#b1f397"/>
<circle cx="1882.28" cy="261.87" r="3.25" fill="#b3f295"/>
<circle cx="1877.29" cy="266.63" r="3.25" fill="#b5f194"/>
<circle cx="1872.58" cy="271.35" r="3.25" fill="#b7f093"/>
<circle cx="1869.57" cy="278.47" r="3.25" fill="#b8f092"/>
<circle cx="1868.67" cy="286.21" r="3.25" fill="#baef91"/>
<circle cx="1866.32" cy="294.62" r="3.25" fill="#bcee90"/>
<circle cx="1862.03" cy="304.32" r="3.25" fill="#beed8f"/>
<circle cx="1855.34" cy="311.67" r="3.25" fill="#bfec8e"/>
<circle cx="1848.23" cy="317.23" r="3.25" fill="#c1eb8d"/>
<circle cx="1841.97" cy="321.55" r="3.25" fill="#c3e98b"/>
<circle cx="1836.6" cy="326.31" r="3.25" fill="#c4e88a"/>
<circle cx="1831.09" cy="334.23" r="3.25" fill="#c6e789"/>
<circle cx="1826.14" cy="342.82" r="3.25" fill="#c8e688"/>
<circle cx="1822.94" cy="351.63" r="3.25" fill="#cae587"/>
<circle cx="1821.15" cy="358.13" r="3.25" fill="#cbe486"/>
<circle cx="1819.26" cy="363.29" r="3.25" fill="#cde285"/>
<circle cx="1817.14" cy="369.21" r="3.25" fill="#cfe183"/>
<circle cx="1815.61" cy="373.26" r="3.25" fill="#d0e082"/>
<circle cx="1813.96" cy="376.66" r="3.25" fill="#d2df81"/>
<circle cx="1812.04" cy="379.76" r="3.25" fill="#d4dd80"/>
<circle cx="1809.87" cy="382.59" r="3.25" fill="#d6dc7f"/>
<circle cx="1807.28" cy="384.39" r="3.25" fill="#d7db7e"/>
<circle cx="1804.68" cy="385.6" r="3.25" fill="#d9d97c"/>
<circle cx="1802.17" cy="387.16" r="3.25" fill="#dbd87b"/>
<circle cx="1799.15" cy="390.92" r="3.25" fill="#ddd67a"/>
<circle cx="1795.66" cy="396.54" r="3.25" fill="#ded579"/>
<circle cx="1792.7" cy="401.46" r="3.25" fill="#e0d378"/>
<circle cx="1790.8" cy="405.64" r="3.25" fill="#e2d276"/>
<circle cx="1789.79" cy="409.98" r="3.25" fill="#e3d075"/>
<circle cx="1789.29" cy="415.46" r="3.25" fill="#e5cf74"/>
<circle cx="1789.07" cy="423.23" r="3.25" fill="#e7cd73"/>
<circle cx="1788.98" cy="434" r="3.25" fill="#e9cb72"/>
<circle cx="1788.79" cy="445.88" r="3.25" fill="#eaca70"/>
<circle cx="1788.98" cy="457.94" r="3.25" fill="#ecc86f"/>
<circle cx="1789.87" cy="469.78" r="3.25" fill="#eec66e"/>
<circle cx="1791.47" cy="480.86" r="3.25" fill="#efc56d"/>
<circle cx="1793.5" cy="493.36" r="3.25" fill="#f1c36b"/>
<circle cx="1796.09" cy="504.71" r="3.25" fill="#f3c16a"/>
<circle cx="1800.19" cy="516.99" r="3.25" fill="#f5bf69"/>
<circle cx="1804.29" cy="528.43" r="3.25" fill="#f6be68"/>
<circle cx="1806.64" cy="539.42" r="3.25" fill="#f8bc67"/>
<circle cx="1809.66" cy="553.21" r="3.25" fill="#faba65"/>
<circle cx="1815.92" cy="572.17" r="3.25" fill="#fcb864"/>
<circle cx="1823.27" cy="592.42" r="3.25" fill="#fdb663"/>
<circle cx="1834.85" cy="615.65" r="3.25" fill="#ffb462"/>
<circle cx="1850.59" cy="640.88" r="3.25" fill="#ffb260"/>
<circle cx="1868.91" cy="665.84" r="3.25" fill="#ffb05f"/>
<circle cx="1891.75" cy="691.07" r="3.25" fill="#ffae5e"/>
<circle cx="1916.1" cy="713.46" r="3.25" fill="#ffac5d"/>
<circle cx="1939.56" cy="731.12" r="3.25" fill="#ffaa5b"/>
<circle cx="1965.18" cy="746.88" r="3.25" fill="#ffa85a"/>
<circle cx="1992.12" cy="760.63" r="3.25" fill="#ffa659"/>
<circle cx="2017.98" cy="771" r="3.25" fill="#ffa457"/>
<circle cx="2046.38" cy="779.81" r="3.25" fill="#ffa256"/>
<circle cx="2079.35" cy="787.37" r="3.25" fill="#ffa055"/>
<circle cx="2112.98" cy="792.09" r="3.25" fill="#ff9e54"/>
<circle cx="2152.73" cy="794.89" r="3.25" fill="#ff9c52"/>
<circle cx="2194.51" cy="794.45" r="3.25" fill="#ff9a51"/>
<circle cx="2232.52" cy="788.8" r="3.25" fill="#ff9850"/>
<circle cx="2267.99" cy="777.27" r="3.25" fill="#ff954f"/>
<circle cx="2299.87" cy="762.32" r="3.25" fill="#ff934d"/>
<circle cx="2326.77" cy="747.63" r="3.25" fill="#ff914c"/>
<circle cx="2353.19" cy="731.84" r="3.25" fill="#ff8f4b"/>
<circle cx="2378.06" cy="714.62" r="3.25" fill="#ff8d49"/>
<circle cx="2401.37" cy="694.5" r="3.25" fill="#ff8a48"/>
<circle cx="2422.14" cy="673.94" r="3.25" fill="#ff8847"/>
<circle cx="2442.49" cy="650.45" r="3.25" fill="#ff8645"/>
<circle cx="2459.92" cy="626.68" r="3.25" fill="#ff8344"/>
<circle cx="2473.25" cy="605.9" r="3.25" fill="#ff8143"/>
<circle cx="2483.47" cy="585.83" r="3.25" fill="#ff7f42"/>
<circle cx="2489.83" cy="567.36" r="3.25" fill="#ff7c40"/>
<circle cx="2492.89" cy="551.26" r="3.25" fill="#ff7a3f"/>
<circle cx="2495.76" cy="534.39" r="3.25" fill="#ff783e"/>
<circle cx="2497.88" cy="518.1" r="3.25" fill="#ff753c"/>
<circle cx="2499.25" cy="505.11" r="3.25" fill="#ff733b"/>
<circle cx="2500.75" cy="492.43" r="3.25" fill="#ff703a"/>
<circle cx="2501.93" cy="476.18" r="3.25" fill="#ff6e38"/>
<circle cx="2501.7" cy="461.23" r="3.25" fill="#ff6b37"/>
<circle cx="2499.81" cy="446.46" r="3.25" fill="#ff6936"/>
<circle cx="2498.26" cy="431.91" r="3.25" fill="#ff6734"/>
<circle cx="2497.13" cy="418.87" r="3.25" fill="#ff6433"/>
<circle cx="2495.76" cy="404.72" r="3.25" fill="#ff6232"/>
<circle cx="2493.88" cy="389.76" r="3.25" fill="#ff5f30"/>
<circle cx="2490.63" cy="375.97" r="3.25" fill="#ff5d2f"/>
<circle cx="2486.2" cy="363.91" r="3.25" fill="#ff5a2e"/>
<circle cx="2480.27" cy="353.59" r="3.25" fill="#ff572c"/>
<circle cx="2472.96" cy="343.22" r="3.25" fill="#ff552b"/>
<circle cx="2463.97" cy="332.89" r="3.25" fill="#ff522a"/>
<circle cx="2454.22" cy="323.5" r="3.25" fill="#ff5028"/>
<circle cx="2444.66" cy="314.69" r="3.25" fill="#ff4d27"/>
<circle cx="2435.19" cy="304.95" r="3.25" fill="#ff4b26"/>
<circle cx="2428.36" cy="296.36" r="3.25" fill="#ff4824"/>
<circle cx="2424.31" cy="287.77" r="3.25" fill="#ff4523"/>
<circle cx="2420.92" cy="279.72" r="3.25" fill="#ff4322"/>
<circle cx="2416.82" cy="271.13" r="3.25" fill="#ff4020"/>
<circle cx="2411.41" cy="261.74" r="3.25" fill="#ff3e1f"/>
<circle cx="2405.05" cy="253.82" r="3.25" fill="#ff3b1e"/>
<circle cx="2396.9" cy="245.76" r="3.25" fill="#ff381c"/>
<circle cx="2388.61" cy="238.42" r="3.25" fill="#ff361b"/>
<circle cx="2381.03" cy="232.28" r="3.25" fill="#ff331a"/>
<circle cx="2372.88" cy="226.81" r="3.25" fill="#ff3018"/>
<circle cx="2363.27" cy="220.53" r="3.25" fill="#ff2e17"/>
<circle cx="2351.02" cy="213.72" r="3.25" fill="#ff2b16"/>
<circle cx="2336.94" cy="205.98" r="3.25" fill="#ff2814"/>
<circle cx="2323.38" cy="198.19" r="3.25" fill="#ff2613"/>
<circle cx="2310.23" cy="191.92" r="3.25" fill="#ff2312"/>
<circle cx="2294.36" cy="185.64" r="3.25" fill="#ff2010"/>
<circle cx="2280.37" cy="180.75" r="3.25" fill="#ff1e0f"/>
<circle cx="2269.12" cy="177.46" r="3.25" fill="#ff1b0e"/>
<circle cx="2260.17" cy="174.07" r="3.25" fill="#ff180c"/>
<circle cx="2254.84" cy="170.65" r="3.25" fill="#ff160b"/>
<circle cx="2251.31" cy="168.6" r="3.25" fill="#ff1309"/>
<circle cx="2247.69" cy="167.53" r="3.25" fill="#ff1008"/>
<circle cx="2241.85" cy="166.82" r="3.25" fill="#ff0e07"/>
<circle cx="2232.9" cy="165.49" r="3.25" fill="#ff0b05"/>
<circle cx="2220.7" cy="162.9" r="3.25" fill="#ff0804"/>
<circle cx="2205.77" cy="160.15" r="3.25" fill="#ff0503"/>
<circle cx="2190.18" cy="157.56" r="3.25" fill="#ff0301"/>
<circle cx="2173.08" cy="155.25" r="3.25" fill="#ff0000"/>
</g>
<path d="M1679 934V44M1796.75 934V44M1914.5 934V44M2032.25 934V44M2150 934V44M2267.75 934V44M2385.5 934V44M2503.25 934V44M2621 934V44M1679 934H2621M1679 822.75H2621M1679 711.5H2621M1679 600.25H2621M1679 489H2621M1679 377.75H2621M1679 266.5H2621M1679 155.25H2621M1679 44H2621" class="grid"/>
<path d="M1679 934v8.3M1796.75 934v8.3M1914.5 934v8.3M2032.25 934v8.3M2150 934v8.3M2267.75 934v8.3M2385.5 934v8.3M2503.25 934v8.3M2621 934v8.3M1679 934h-8.3M1679 822.75h-8.3M1679 711.5h-8.3M1679 600.25h-8.3M1679 489h-8.3M1679 377.75h-8.3M1679 266.5h-8.3M1679 155.25h-8.3M1679 44h-8.3" class="tick"/>
<rect x="1679" y="44" width="942" height="890" class="spine"/>
<text transform="matrix(0.7168 0 0 0.6304 1595.79 995.31)" font-size="100">−</text>
<text transform="matrix(0.5859 0 0 0.5932 1593.56 991.8)" font-size="100" x="81.07 140.52 171.59 231.75">1.00</text>
<text transform="matrix(0.7168 0 0 0.6304 1714.1 995.31)" font-size="100">−</text>
<text transform="matrix(0.5859 0 0 0.5932 1711.86 991.8)" font-size="100" x="81.37 140.52 171.6 231.52">0.75</text>
<text transform="matrix(0.7168 0 0 0.6304 1831.29 995.31)" font-size="100">−</text>
<text transform="matrix(0.5859 0 0 0.5932 1829.06 991.8)" font-size="100" x="81.37 140.52 171.36 231.75">0.50</text>
<text transform="matrix(0.7168 0 0 0.6304 1949.6 995.31)" font-size="100">−</text>
<text transform="matrix(0.5859 0 0 0.5932 1947.36 991.8)" font-size="100" x="81.37 140.52 170.53 231.52">0.25</text>
<text transform="matrix(0.5859 0 0 0.5932 2088.87 991.8)" font-size="100" x="2.15 61.3 92.36 152.52">0.00</text>
<text transform="matrix(0.5859 0 0 0.5932 2207.17 991.8)" font-size="100" x="2.15 61.3 91.31 152.29">0.25</text>
<text transform="matrix(0.5859 0 0 0.5932 2324.37 991.8)" font-size="100" x="2.15 61.3 92.13 152.52">0.50</text>
<text transform="matrix(0.5859 0 0 0.5932 2442.67 991.8)" font-size="100" x="2.15 61.3 92.37 152.29">0.75</text>
<text transform="matrix(0.5859 0 0 0.5932 2558.62 991.8)" font-size="100" x="1.84 61.3 92.36 152.52">1.00</text>
<text transform="matrix(0.7168 0 0 0.6304 1495.16 958.95)" font-size="100">−</text>
<text transform="matrix(0.5859 0 0 0.5932 1492.92 955.45)" font-size="100" x="81.07 140.52 171.59 231.75">1.00</text>
<text transform="matrix(0.7168 0 0 0.6304 1495.16 847.7)" font-size="100">−</text>
<text transform="matrix(0.5859 0 0 0.5932 1492.92 844.2)" font-size="100" x="81.37 140.52 171.6 231.52">0.75</text>
<text transform="matrix(0.7168 0 0 0.6304 1495.16 736.45)" font-size="100">−</text>
<text transform="matrix(0.5859 0 0 0.5932 1492.92 732.95)" font-size="100" x="81.37 140.52 171.36 231.75">0.50</text>
<text transform="matrix(0.7168 0 0 0.6304 1495.16 625.2)" font-size="100">−</text>
<text transform="matrix(0.5859 0 0 0.5932 1492.92 621.7)" font-size="100" x="81.37 140.52 170.53 231.52">0.25</text>
<text transform="matrix(0.5859 0 0 0.5932 1539.34 510.45)" font-size="100" x="2.15 61.3 92.36 152.52">0.00</text>
<text transform="matrix(0.5859 0 0 0.5932 1539.34 399.2)" font-size="100" x="2.15 61.3 91.31 152.29">0.25</text>
<text transform="matrix(0.5859 0 0 0.5932 1539.34 287.95)" font-size="100" x="2.15 61.3 92.13 152.52">0.50</text>
<text transform="matrix(0.5859 0 0 0.5932 1539.34 176.7)" font-size="100" x="2.15 61.3 92.37 152.29">0.75</text>
<text transform="matrix(0.5859 0 0 0.5932 1539.34 65.45)" font-size="100" x="1.84 61.3 92.36 152.52">1.00</text>
<rect x="2626.1" y="44" width="44.9" height="890" fill="url(#rb)" class="spine"/>
<path d="M2671 44h7.6M2671 493.51h7.6" class="tick"/>
<text transform="matrix(0.4252 0 0 0.4304 2686.2 58.92)" font-size="100" x="1.09 61.95 122.11 181.62 212.68">299.0</text>
<text transform="matrix(0.4252 0 0 0.4304 2686.2 508.43)" font-size="100" x="1.84 62.33 122.11 181.62 212.46">149.5</text>
<g transform="translate(2852 559.39) rotate(-90)">
<text transform="matrix(0.7404 0 0 0.5942 0.27 -0.36)" font-size="100" font-style="italic">t</text>
<text transform="matrix(0.5748 0 0 0.5302 40.38 -3.43)" font-size="100">[</text>
<text transform="matrix(0.6041 0 0 0.5882 58.21 0.23)" font-size="100" font-style="italic">T</text>
<text transform="matrix(0.4101 0 0 0.4152 96 9.42)" font-size="100">0</text>
<text transform="matrix(0.5748 0 0 0.5302 126.26 -3.43)" font-size="100">]</text>
</g>
</g>
<g id="ax3">
<g class="pts">
<circle cx="387.86" cy="1560.7" r="3.25" fill="#8000ff"/>
<circle cx="387.81" cy="1560.55" r="3.25" fill="#7e03ff"/>
<circle cx="387.76" cy="1560.43" r="3.25" fill="#7c05ff"/>
<circle cx="387.71" cy="1560.35" r="3.25" fill="#7a08ff"/>
<circle cx="387.66" cy="1560.29" r="3.25" fill="#790bff"/>
<circle cx="387.62" cy="1560.2" r="3.25" fill="#770eff"/>
<circle cx="387.57" cy="1560.06" r="3.25" fill="#7510ff"/>
<circle cx="387.53" cy="1559.9" r="3.25" fill="#7313ff"/>
<circle cx="387.49" cy="1559.77" r="3.25" fill="#7216ff"/>
<circle cx="387.45" cy="1559.68" r="3.25" fill="#7018ff"/>
<circle cx="387.41" cy="1559.62" r="3.25" fill="#6e1bff"/>
<circle cx="387.38" cy="1559.54" r="3.25" fill="#6d1eff"/>
<circle cx="387.34" cy="1559.42" r="3.25" fill="#6b20fe"/>
<circle cx="387.31" cy="1559.26" r="3.25" fill="#6923fe"/>
<circle cx="387.28" cy="1559.12" r="3.25" fill="#6726fe"/>
<circle cx="387.25" cy="1559.02" r="3.25" fill="#6628fe"/>
<circle cx="387.22" cy="1558.95" r="3.25" fill="#642bfe"/>
<circle cx="387.2" cy="1558.47" r="3.25" fill="#622efe"/>
<circle cx="387.18" cy="1557.9" r="3.25" fill="#6030fe"/>
<circle cx="387.17" cy="1557.34" r="3.25" fill="#5f33fe"/>
<circle cx="387.17" cy="1556.77" r="3.25" fill="#5d36fe"/>
<circle cx="387.18" cy="1556.21" r="3.25" fill="#5b38fd"/>
<circle cx="387.19" cy="1555.64" r="3.25" fill="#5a3bfd"/>
<circle cx="387.22" cy="1555.08" r="3.25" fill="#583efd"/>
<circle cx="387.25" cy="1554.51" r="3.25" fill="#5640fd"/>
<circle cx="387.29" cy="1553.95" r="3.25" fill="#5443fd"/>
<circle cx="387.33" cy="1553.38" r="3.25" fill="#5345fd"/>
<circle cx="387.39" cy="1552.81" r="3.25" fill="#5148fc"/>
<circle cx="387.46" cy="1551.27" r="3.25" fill="#4f4bfc"/>
<circle cx="387.55" cy="1549.81" r="3.25" fill="#4e4dfc"/>
<circle cx="387.65" cy="1549.95" r="3.25" fill="#4c50fc"/>
<circle cx="387.75" cy="1550.29" r="3.25" fill="#4a52fc"/>
<circle cx="387.84" cy="1550.67" r="3.25" fill="#4855fb"/>
<circle cx="387.93" cy="1551.11" r="3.25" fill="#4757fb"/>
<circle cx="388.07" cy="1542.72" r="3.25" fill="#455afb"/>
<circle cx="388.36" cy="1529.59" r="3.25" fill="#435dfb"/>
<circle cx="388.87" cy="1511.99" r="3.25" fill="#415ffa"/>
<circle cx="389.62" cy="1496.79" r="3.25" fill="#4062fa"/>
<circle cx="390.54" cy="1486.1" r="3.25" fill="#3e64fa"/>
<circle cx="391.6" cy="1478.34" r="3.25" fill="#3c67fa"/>
<circle cx="392.72" cy="1476.92" r="3.25" fill="#3b69f9"/>
<circle cx="393.83" cy="1479.33" r="3.25" fill="#396bf9"/>
<circle cx="394.87" cy="1486.71" r="3.25" fill="#376ef9"/>
<circle cx="395.76" cy="1500.99" r="3.25" fill="#3570f8"/>
<circle cx="396.42" cy="1520.1" r="3.25" fill="#3473f8"/>
<circle cx="396.78" cy="1542.84" r="3.25" fill="#3275f8"/>
<circle cx="396.8" cy="1568.6" r="3.25" fill="#3078f7"/>
<circle cx="396.44" cy="1596.81" r="3.25" fill="#2f7af7"/>
<circle cx="395.66" cy="1627.17" r="3.25" fill="#2d7cf7"/>
<circle cx="394.47" cy="1655.77" r="3.25" fill="#2b7ff6"/>
<circle cx="392.91" cy="1679.54" r="3.25" fill="#2981f6"/>
<circle cx="391.06" cy="1695.72" r="3.25" fill="#2883f6"/>
<circle cx="389.06" cy="1701.27" r="3.25" fill="#2686f5"/>
<circle cx="387.06" cy="1696.64" r="3.25" fill="#2488f5"/>
<circle cx="385.22" cy="1678.63" r="3.25" fill="#228af5"/>
<circle cx="383.73" cy="1646.43" r="3.25" fill="#218df4"/>
<circle cx="382.77" cy="1603.86" r="3.25" fill="#1f8ff4"/>
<circle cx="382.47" cy="1551.56" r="3.25" fill="#1d91f3"/>
<circle cx="382.91" cy="1499.12" r="3.25" fill="#1c93f3"/>
<circle cx="384.03" cy="1455.39" r="3.25" fill="#1a95f3"/>
<circle cx="385.68" cy="1423.34" r="3.25" fill="#1898f2"/>
<circle cx="387.72" cy="1399.17" r="3.25" fill="#169af2"/>
<circle cx="390.03" cy="1386.82" r="3.25" fill="#159cf1"/>
<circle cx="392.44" cy="1383.69" r="3.25" fill="#139ef1"/>
<circle cx="394.84" cy="1388.71" r="3.25" fill="#11a0f0"/>
<circle cx="397.14" cy="1398.38" r="3.25" fill="#10a2f0"/>
<circle cx="399.29" cy="1409.4" r="3.25" fill="#0ea4f0"/>
<circle cx="401.25" cy="1424.54" r="3.25" fill="#0ca6ef"/>
<circle cx="402.97" cy="1445.29" r="3.25" fill="#0aa8ef"/>
<circle cx="404.4" cy="1463.81" r="3.25" fill="#09aaee"/>
<circle cx="405.58" cy="1481.35" r="3.25" fill="#07acee"/>
<circle cx="406.52" cy="1498.5" r="3.25" fill="#05aeed"/>
<circle cx="407.22" cy="1514.18" r="3.25" fill="#03b0ed"/>
<circle cx="407.71" cy="1529.66" r="3.25" fill="#02b2ec"/>
<circle cx="408" cy="1541.92" r="3.25" fill="#00b4ec"/>
<circle cx="408.13" cy="1551.51" r="3.25" fill="#02b6eb"/>
<circle cx="408.17" cy="1556.5" r="3.25" fill="#03b8eb"/>
<circle cx="408.16" cy="1556.35" r="3.25" fill="#05baea"/>
<circle cx="408.15" cy="1557.72" r="3.25" fill="#07bce9"/>
<circle cx="408.13" cy="1558.25" r="3.25" fill="#09bee9"/>
<circle cx="408.12" cy="1555.9" r="3.25" fill="#0abfe8"/>
<circle cx="408.15" cy="1552.76" r="3.25" fill="#0cc1e8"/>
<circle cx="408.2" cy="1551.65" r="3.25" fill="#0ec3e7"/>
<circle cx="408.27" cy="1551.09" r="3.25" fill="#10c5e7"/>
<circle cx="408.4" cy="1542.74" r="3.25" fill="#11c6e6"/>
<circle cx="408.62" cy="1539.32" r="3.25" fill="#13c8e5"/>
<circle cx="408.91" cy="1531.82" r="3.25" fill="#15cae5"/>
<circle cx="409.24" cy="1535.03" r="3.25" fill="#16cbe4"/>
<circle cx="409.6" cy="1525.75" r="3.25" fill="#18cde4"/>
<circle cx="410.07" cy="1520.45" r="3.25" fill="#1acfe3"/>
<circle cx="410.68" cy="1504.9" r="3.25" fill="#1cd0e2"/>
<circle cx="411.5" cy="1492.28" r="3.25" fill="#1dd2e2"/>
<circle cx="412.43" cy="1487.83" r="3.25" fill="#1fd3e1"/>
<circle cx="413.43" cy="1484.07" r="3.25" fill="#21d5e1"/>
<circle cx="414.45" cy="1483.09" r="3.25" fill="#22d6e0"/>
<circle cx="415.42" cy="1492.93" r="3.25" fill="#24d8df"/>
<circle cx="416.15" cy="1515.48" r="3.25" fill="#26d9df"/>
<circle cx="416.53" cy="1544.09" r="3.25" fill="#28dbde"/>
<circle cx="416.58" cy="1557.77" r="3.25" fill="#29dcdd"/>
<circle cx="416.44" cy="1572.18" r="3.25" fill="#2bdddd"/>
<circle cx="416.16" cy="1577.81" r="3.25" fill="#2ddfdc"/>
<circle cx="415.76" cy="1588.66" r="3.25" fill="#2fe0db"/>
<circle cx="415.59" cy="1544.46" r="3.25" fill="#30e1db"/>
<circle cx="415.76" cy="1541.22" r="3.25" fill="#32e2da"/>
<circle cx="416.07" cy="1524.86" r="3.25" fill="#34e4d9"/>
<circle cx="416.63" cy="1505.47" r="3.25" fill="#35e5d8"/>
<circle cx="417.49" cy="1482.78" r="3.25" fill="#37e6d8"/>
<circle cx="418.67" cy="1460.31" r="3.25" fill="#39e7d7"/>
<circle cx="420.12" cy="1443.45" r="3.25" fill="#3be8d6"/>
<circle cx="421.75" cy="1434.94" r="3.25" fill="#3ce9d6"/>
<circle cx="423.45" cy="1433.81" r="3.25" fill="#3eebd5"/>
<circle cx="425.15" cy="1435.87" r="3.25" fill="#40ecd4"/>
<circle cx="426.8" cy="1440.33" r="3.25" fill="#41edd3"/>
<circle cx="428.36" cy="1447.62" r="3.25" fill="#43eed3"/>
<circle cx="429.82" cy="1455.07" r="3.25" fill="#45efd2"/>
<circle cx="431.18" cy="1462.47" r="3.25" fill="#47f0d1"/>
<circle cx="432.4" cy="1473.38" r="3.25" fill="#48f0d0"/>
<circle cx="433.43" cy="1490.85" r="3.25" fill="#4af1cf"/>
<circle cx="434.44" cy="1511.79" r="3.25" fill="#4cf2cf"/>
<circle cx="435.11" cy="1539.19" r="3.25" fill="#4ef3ce"/>
<circle cx="435.37" cy="1570.02" r="3.25" fill="#4ff4cd"/>
<circle cx="435.25" cy="1594.54" r="3.25" fill="#51f5cc"/>
<circle cx="434.84" cy="1609.18" r="3.25" fill="#53f5cb"/>
<circle cx="434.23" cy="1623.83" r="3.25" fill="#54f6cb"/>
<circle cx="433.41" cy="1639.6" r="3.25" fill="#56f7ca"/>
<circle cx="432.37" cy="1654.58" r="3.25" fill="#58f7c9"/>
<circle cx="430.88" cy="1670.57" r="3.25" fill="#5af8c8"/>
<circle cx="429.14" cy="1689.14" r="3.25" fill="#5bf9c7"/>
<circle cx="427.14" cy="1706.34" r="3.25" fill="#5df9c6"/>
<circle cx="424.9" cy="1723.47" r="3.25" fill="#5ffac6"/>
<circle cx="422.42" cy="1738.56" r="3.25" fill="#60fac5"/>
<circle cx="419.77" cy="1750.01" r="3.25" fill="#62fbc4"/>
<circle cx="416.98" cy="1757.58" r="3.25" fill="#64fbc3"/>
<circle cx="414.11" cy="1761.49" r="3.25" fill="#66fcc2"/>
<circle cx="411.18" cy="1765.56" r="3.25" fill="#67fcc1"/>
<circle cx="408.17" cy="1773.81" r="3.25" fill="#69fdc0"/>
<circle cx="405.02" cy="1784.75" r="3.25" fill="#6bfdbf"/>
<circle cx="401.73" cy="1794.37" r="3.25" fill="#6dfdbf"/>
<circle cx="398.33" cy="1800.99" r="3.25" fill="#6efebe"/>
<circle cx="394.84" cy="1805.64" r="3.25" fill="#70febd"/>
<circle cx="391.31" cy="1808.28" r="3.25" fill="#72febc"/>
<circle cx="387.74" cy="1810.53" r="3.25" fill="#73febb"/>
<circle cx="384.12" cy="1815.62" r="3.25" fill="#75feba"/>
<circle cx="380.44" cy="1819.95" r="3.25" fill="#77ffb9"/>
<circle cx="376.68" cy="1825.87" r="3.25" fill="#79ffb8"/>
<circle cx="372.83" cy="1833.23" r="3.25" fill="#7affb7"/>
<circle cx="368.27" cy="1840.74" r="3.25" fill="#7cffb6"/>
<circle cx="363.62" cy="1845.19" r="3.25" fill="#7effb5"/>
<circle cx="358.93" cy="1848.27" r="3.25" fill="#80ffb4"/>
<circle cx="354.2" cy="1849.45" r="3.25" fill="#81ffb3"/>
<circle cx="349.47" cy="1848.86" r="3.25" fill="#83ffb2"/>
<circle cx="344.74" cy="1849.63" r="3.25" fill="#85ffb1"/>
<circle cx="339.98" cy="1853.25" r="3.25" fill="#86ffb0"/>
<circle cx="335.17" cy="1857.3" r="3.25" fill="#88ffaf"/>
<circle cx="330.3" cy="1860.81" r="3.25" fill="#8afeae"/>
<circle cx="326" cy="1862.42" r="3.25" fill="#8cfead"/>
<circle cx="321.67" cy="1863.2" r="3.25" fill="#8dfeac"/>
<circle cx="317.36" cy="1861.48" r="3.25" fill="#8ffeab"/>
<circle cx="313.07" cy="1859.04" r="3.25" fill="#91feaa"/>
<circle cx="308.81" cy="1858.18" r="3.25" fill="#92fda9"/>
<circle cx="304.54" cy="1861.18" r="3.25" fill="#94fda8"/>
<circle cx="300.21" cy="1865.65" r="3.25" fill="#96fda7"/>
<circle cx="295.82" cy="1869.79" r="3.25" fill="#98fca6"/>
<circle cx="291.37" cy="1871.05" r="3.25" fill="#99fca5"/>
<circle cx="286.92" cy="1870.62" r="3.25" fill="#9bfba4"/>
<circle cx="282.47" cy="1869.7" r="3.25" fill="#9dfba3"/>
<circle cx="278.05" cy="1867.46" r="3.25" fill="#9ffaa2"/>
<circle cx="273.66" cy="1865.15" r="3.25" fill="#a0faa1"/>
<circle cx="269.31" cy="1860.58" r="3.25" fill="#a2f9a0"/>
<circle cx="265.08" cy="1850.34" r="3.25" fill="#a4f99f"/>
<circle cx="261.03" cy="1834.07" r="3.25" fill="#a5f89e"/>
<circle cx="257.27" cy="1808.98" r="3.25" fill="#a7f79d"/>
<circle cx="253.95" cy="1770.68" r="3.25" fill="#a9f79c"/>
<circle cx="251.34" cy="1709.84" r="3.25" fill="#abf69b"/>
<circle cx="249.78" cy="1623.39" r="3.25" fill="#acf59a"/>
<circle cx="249.56" cy="1524.79" r="3.25" fill="#aef599"/>
<circle cx="250.59" cy="1433.87" r="3.25" fill="#b0f498"/>
<circle cx="252.74" cy="1364.62" r="3.25" fill="#b1f397"/>
<circle cx="255.7" cy="1319.65" r="3.25" fill="#b3f295"/>
<circle cx="259.19" cy="1288.38" r="3.25" fill="#b5f194"/>
<circle cx="263.04" cy="1267.15" r="3.25" fill="#b7f093"/>
<circle cx="267.13" cy="1254.43" r="3.25" fill="#b8f092"/>
<circle cx="271.36" cy="1248.24" r="3.25" fill="#baef91"/>
<circle cx="275.66" cy="1243.8" r="3.25" fill="#bcee90"/>
<circle cx="280.03" cy="1240.04" r="3.25" fill="#beed8f"/>
<circle cx="284.45" cy="1234.74" r="3.25" fill="#bfec8e"/>
<circle cx="288.95" cy="1229.3" r="3.25" fill="#c1eb8d"/>
<circle cx="293.52" cy="1224.66" r="3.25" fill="#c3e98b"/>
<circle cx="298.15" cy="1221.32" r="3.25" fill="#c4e88a"/>
<circle cx="302.82" cy="1219.3" r="3.25" fill="#c6e789"/>
<circle cx="307.51" cy="1218.24" r="3.25" fill="#c8e688"/>
<circle cx="312.2" cy="1218.87" r="3.25" fill="#cae587"/>
<circle cx="316.88" cy="1219.87" r="3.25" fill="#cbe486"/>
<circle cx="321.56" cy="1220.26" r="3.25" fill="#cde285"/>
<circle cx="326.22" cy="1220.73" r="3.25" fill="#cfe183"/>
<circle cx="330.88" cy="1220.96" r="3.25" fill="#d0e082"/>
<circle cx="335.54" cy="1220.81" r="3.25" fill="#d2df81"/>
<circle cx="340.2" cy="1220.29" r="3.25" fill="#d4dd80"/>
<circle cx="344.87" cy="1219.42" r="3.25" fill="#d6dc7f"/>
<circle cx="349.56" cy="1217.77" r="3.25" fill="#d7db7e"/>
<circle cx="354.27" cy="1215.89" r="3.25" fill="#d9d97c"/>
<circle cx="359.01" cy="1214.19" r="3.25" fill="#dbd87b"/>
<circle cx="363.77" cy="1212.86" r="3.25" fill="#ddd67a"/>
<circle cx="368.54" cy="1211.77" r="3.25" fill="#ded579"/>
<circle cx="373.33" cy="1210.83" r="3.25" fill="#e0d378"/>
<circle cx="378.13" cy="1210.51" r="3.25" fill="#e2d276"/>
<circle cx="382.93" cy="1210.99" r="3.25" fill="#e3d075"/>
<circle cx="387.71" cy="1212.29" r="3.25" fill="#e5cf74"/>
<circle cx="392.47" cy="1214.58" r="3.25" fill="#e7cd73"/>
<circle cx="397.19" cy="1217.93" r="3.25" fill="#e9cb72"/>
<circle cx="401.86" cy="1221.43" r="3.25" fill="#eaca70"/>
<circle cx="406.48" cy="1225.16" r="3.25" fill="#ecc86f"/>
<circle cx="411.04" cy="1229.27" r="3.25" fill="#eec66e"/>
<circle cx="415.55" cy="1233.58" r="3.25" fill="#efc56d"/>
<circle cx="419.98" cy="1238.55" r="3.25" fill="#f1c36b"/>
<circle cx="424.35" cy="1243.46" r="3.25" fill="#f3c16a"/>
<circle cx="428.64" cy="1249.82" r="3.25" fill="#f5bf69"/>
<circle cx="432.84" cy="1255.73" r="3.25" fill="#f6be68"/>
<circle cx="436.97" cy="1259.74" r="3.25" fill="#f8bc67"/>
<circle cx="441.04" cy="1264.9" r="3.25" fill="#faba65"/>
<circle cx="445" cy="1274.06" r="3.25" fill="#fcb864"/>
<circle cx="448.83" cy="1284.09" r="3.25" fill="#fdb663"/>
<circle cx="452.49" cy="1298.21" r="3.25" fill="#ffb462"/>
<circle cx="455.92" cy="1315.97" r="3.25" fill="#ffb260"/>
<circle cx="459.09" cy="1335.35" r="3.25" fill="#ffb05f"/>
<circle cx="461.96" cy="1358.23" r="3.25" fill="#ffae5e"/>
<circle cx="464.51" cy="1381.23" r="3.25" fill="#ffac5d"/>
<circle cx="466.75" cy="1401.92" r="3.25" fill="#ffaa5b"/>
<circle cx="468.69" cy="1423.82" r="3.25" fill="#ffa85a"/>
<circle cx="470.32" cy="1446.21" r="3.25" fill="#ffa659"/>
<circle cx="471.64" cy="1466.78" r="3.25" fill="#ffa457"/>
<circle cx="472.66" cy="1489.3" r="3.25" fill="#ffa256"/>
<circle cx="473.33" cy="1515.77" r="3.25" fill="#ffa055"/>
<circle cx="473.63" cy="1542.47" r="3.25" fill="#ff9e54"/>
<circle cx="473.51" cy="1574.74" r="3.25" fill="#ff9c52"/>
<circle cx="473.02" cy="1608.78" r="3.25" fill="#ff9a51"/>
<circle cx="472.07" cy="1639.27" r="3.25" fill="#ff9850"/>
<circle cx="470.71" cy="1667.68" r="3.25" fill="#ff954f"/>
<circle cx="468.97" cy="1693.28" r="3.25" fill="#ff934d"/>
<circle cx="466.9" cy="1714.76" r="3.25" fill="#ff914c"/>
<circle cx="464.52" cy="1736.39" r="3.25" fill="#ff8f4b"/>
<circle cx="461.84" cy="1757.19" r="3.25" fill="#ff8d49"/>
<circle cx="458.88" cy="1777.34" r="3.25" fill="#ff8a48"/>
<circle cx="455.64" cy="1795.77" r="3.25" fill="#ff8847"/>
<circle cx="452.13" cy="1814.75" r="3.25" fill="#ff8645"/>
<circle cx="448.38" cy="1831.67" r="3.25" fill="#ff8344"/>
<circle cx="444.41" cy="1844.98" r="3.25" fill="#ff8143"/>
<circle cx="440.27" cy="1855.78" r="3.25" fill="#ff7f42"/>
<circle cx="436" cy="1863.16" r="3.25" fill="#ff7c40"/>
<circle cx="431.65" cy="1867.48" r="3.25" fill="#ff7a3f"/>
<circle cx="427.24" cy="1872.05" r="3.25" fill="#ff783e"/>
<circle cx="422.76" cy="1876.11" r="3.25" fill="#ff753c"/>
<circle cx="418.24" cy="1879.15" r="3.25" fill="#ff733b"/>
<circle cx="413.67" cy="1882.44" r="3.25" fill="#ff703a"/>
<circle cx="409.05" cy="1886.23" r="3.25" fill="#ff6e38"/>
<circle cx="404.39" cy="1888.64" r="3.25" fill="#ff6b37"/>
<circle cx="399.7" cy="1889.59" r="3.25" fill="#ff6936"/>
<circle cx="395" cy="1890.89" r="3.25" fill="#ff6734"/>
<circle cx="390.27" cy="1892.31" r="3.25" fill="#ff6433"/>
<circle cx="385.53" cy="1893.7" r="3.25" fill="#ff6232"/>
<circle cx="380.77" cy="1894.68" r="3.25" fill="#ff5f30"/>
<circle cx="376.01" cy="1894" r="3.25" fill="#ff5d2f"/>
<circle cx="371.27" cy="1891.69" r="3.25" fill="#ff5a2e"/>
<circle cx="366.61" cy="1887.48" r="3.25" fill="#ff572c"/>
<circle cx="362.01" cy="1881.7" r="3.25" fill="#ff552b"/>
<circle cx="357.51" cy="1873.93" r="3.25" fill="#ff522a"/>
<circle cx="353.13" cy="1864.82" r="3.25" fill="#ff5028"/>
<circle cx="348.87" cy="1855.24" r="3.25" fill="#ff4d27"/>
<circle cx="344.75" cy="1845.17" r="3.25" fill="#ff4b26"/>
<circle cx="340.76" cy="1836.64" r="3.25" fill="#ff4824"/>
<circle cx="336.88" cy="1829.83" r="3.25" fill="#ff4523"/>
<circle cx="333.09" cy="1822.58" r="3.25" fill="#ff4322"/>
<circle cx="329.41" cy="1813.5" r="3.25" fill="#ff4020"/>
<circle cx="325.94" cy="1801.29" r="3.25" fill="#ff3e1f"/>
<circle cx="322.65" cy="1786.51" r="3.25" fill="#ff3b1e"/>
<circle cx="319.61" cy="1768.2" r="3.25" fill="#ff381c"/>
<circle cx="316.83" cy="1747.89" r="3.25" fill="#ff361b"/>
<circle cx="314.35" cy="1726.48" r="3.25" fill="#ff331a"/>
<circle cx="312.19" cy="1702.83" r="3.25" fill="#ff3018"/>
<circle cx="310.39" cy="1675.91" r="3.25" fill="#ff2e17"/>
<circle cx="309" cy="1644.85" r="3.25" fill="#ff2b16"/>
<circle cx="308.06" cy="1610.54" r="3.25" fill="#ff2814"/>
<circle cx="307.62" cy="1575.75" r="3.25" fill="#ff2613"/>
<circle cx="307.66" cy="1541.69" r="3.25" fill="#ff2312"/>
<circle cx="308.21" cy="1505.71" r="3.25" fill="#ff2010"/>
<circle cx="309.24" cy="1473.09" r="3.25" fill="#ff1e0f"/>
<circle cx="310.7" cy="1444.98" r="3.25" fill="#ff1b0e"/>
<circle cx="312.54" cy="1420.09" r="3.25" fill="#ff180c"/>
<circle cx="314.7" cy="1399.14" r="3.25" fill="#ff160b"/>
<circle cx="317.13" cy="1381.65" r="3.25" fill="#ff1309"/>
<circle cx="319.79" cy="1366.17" r="3.25" fill="#ff1008"/>
<circle cx="322.67" cy="1351.1" r="3.25" fill="#ff0e07"/>
<circle cx="325.77" cy="1335.36" r="3.25" fill="#ff0b05"/>
<circle cx="329.09" cy="1318.51" r="3.25" fill="#ff0804"/>
<circle cx="332.65" cy="1301.83" r="3.25" fill="#ff0503"/>
<circle cx="336.43" cy="1286.6" r="3.25" fill="#ff0301"/>
<circle cx="340.42" cy="1272.4" r="3.25" fill="#ff0000"/>
</g>
<path d="M230 2002V1112M355.6 2002V1112M481.2 2002V1112M606.8 2002V1112M732.4 2002V1112M858 2002V1112M983.6 2002V1112M1109.2 2002V1112M230 2002H1172M230 1890.75H1172M230 1779.5H1172M230 1668.25H1172M230 1557H1172M230 1445.75H1172M230 1334.5H1172M230 1223.25H1172M230 1112H1172" class="grid"/>
<path d="M230 2002v8.3M355.6 2002v8.3M481.2 2002v8.3M606.8 2002v8.3M732.4 2002v8.3M858 2002v8.3M983.6 2002v8.3M1109.2 2002v8.3M230 2002h-8.3M230 1890.75h-8.3M230 1779.5h-8.3M230 1668.25h-8.3M230 1557h-8.3M230 1445.75h-8.3M230 1334.5h-8.3M230 1223.25h-8.3M230 1112h-8.3" class="tick"/>
<rect x="230" y="1112" width="942" height="890" class="spine"/>
<text transform="matrix(0.5859 0 0 0.5932 212.91 2059.8)" font-size="100" x="2.15">0</text>
<text transform="matrix(0.5859 0 0 0.5932 320.64 2059.8)" font-size="100" x="1.09 62.31">20</text>
<text transform="matrix(0.5859 0 0 0.5932 446.94 2059.8)" font-size="100" x="2.17 62.31">40</text>
<text transform="matrix(0.5859 0 0 0.5932 571.91 2059.8)" font-size="100" x="2.25 62.31">60</text>
<text transform="matrix(0.5859 0 0 0.5932 697.58 2059.8)" font-size="100" x="2.27 62.31">80</text>
<text transform="matrix(0.5859 0 0 0.5932 804.42 2059.8)" font-size="100" x="1.84 62.31 122.47">100</text>
<text transform="matrix(0.5859 0 0 0.5932 930.02 2059.8)" font-size="100" x="1.84 61.25 122.47">120</text>
<text transform="matrix(0.5859 0 0 0.5932 1055.62 2059.8)" font-size="100" x="1.84 62.33 122.47">140</text>
<text transform="matrix(0.7168 0 0 0.6304 46.16 2026.95)" font-size="100">−</text>
<text transform="matrix(0.5859 0 0 0.5932 43.92 2023.45)" font-size="100" x="81.07 140.52 171.59 231.75">1.00</text>
<text transform="matrix(0.7168 0 0 0.6304 46.16 1915.7)" font-size="100">−</text>
<text transform="matrix(0.5859 0 0 0.5932 43.92 1912.2)" font-size="100" x="81.37 140.52 171.6 231.52">0.75</text>
<text transform="matrix(0.7168 0 0 0.6304 46.16 1804.45)" font-size="100">−</text>
<text transform="matrix(0.5859 0 0 0.5932 43.92 1800.95)" font-size="100" x="81.37 140.52 171.36 231.75">0.50</text>
<text transform="matrix(0.7168 0 0 0.6304 46.16 1693.2)" font-size="100">−</text>
<text transform="matrix(0.5859 0 0 0.5932 43.92 1689.7)" font-size="100" x="81.37 140.52 170.53 231.52">0.25</text>
<text transform="matrix(0.5859 0 0 0.5932 90.34 1578.45)" font-size="100" x="2.15 61.3 92.36 152.52">0.00</text>
<text transform="matrix(0.5859 0 0 0.5932 90.34 1467.2)" font-size="100" x="2.15 61.3 91.31 152.29">0.25</text>
<text transform="matrix(0.5859 0 0 0.5932 90.34 1355.95)" font-size="100" x="2.15 61.3 92.13 152.52">0.50</text>
<text transform="matrix(0.5859 0 0 0.5932 90.34 1244.7)" font-size="100" x="2.15 61.3 92.37 152.29">0.75</text>
<text transform="matrix(0.5859 0 0 0.5932 90.34 1133.45)" font-size="100" x="1.84 61.3 92.36 152.52">1.00</text>
<rect x="1177.8" y="1112" width="44.5" height="890" fill="url(#rb)" class="spine"/>
<path d="M1222.3 1112h7.6M1222.3 1561.51h7.6" class="tick"/>
<text transform="matrix(0.4252 0 0 0.4304 1237.5 1126.92)" font-size="100" x="1.09 61.95 122.11 181.62 212.68">299.0</text>
<text transform="matrix(0.4252 0 0 0.4304 1237.5 1576.43)" font-size="100" x="1.84 62.33 122.11 181.62 212.46">149.5</text>
<g transform="translate(1403.3 1627.39) rotate(-90)">
<text transform="matrix(0.7404 0 0 0.5942 0.27 -0.36)" font-size="100" font-style="italic">t</text>
<text transform="matrix(0.5748 0 0 0.5302 40.38 -3.43)" font-size="100">[</text>
<text transform="matrix(0.6041 0 0 0.5882 58.21 0.23)" font-size="100" font-style="italic">T</text>
<text transform="matrix(0.4101 0 0 0.4152 96 9.42)" font-size="100">0</text>
<text transform="matrix(0.5748 0 0 0.5302 126.26 -3.43)" font-size="100">]</text>
</g>
</g>
<g id="ax4">
<g class="pts">
<circle cx="1688.42" cy="1919.5" r="3.25" fill="#0000ff"/>
<circle cx="1691.56" cy="1919.5" r="3.25" fill="#0001ff"/>
<circle cx="1694.7" cy="1919.5" r="3.25" fill="#0002fe"/>
<circle cx="1697.84" cy="1919.5" r="3.25" fill="#0003fe"/>
<circle cx="1700.98" cy="1919.5" r="3.25" fill="#0003fd"/>
<circle cx="1704.12" cy="1919.5" r="3.25" fill="#0004fd"/>
<circle cx="1707.26" cy="1919.5" r="3.25" fill="#0005fc"/>
<circle cx="1710.4" cy="1919.5" r="3.25" fill="#0006fc"/>
<circle cx="1713.54" cy="1919.5" r="3.25" fill="#0007fc"/>
<circle cx="1716.68" cy="1919.5" r="3.25" fill="#0008fb"/>
<circle cx="1719.82" cy="1919.5" r="3.25" fill="#0009fb"/>
<circle cx="1722.96" cy="1919.5" r="3.25" fill="#0009fa"/>
<circle cx="1726.1" cy="1919.5" r="3.25" fill="#000afa"/>
<circle cx="1729.24" cy="1919.5" r="3.25" fill="#000bf9"/>
<circle cx="1732.38" cy="1919.5" r="3.25" fill="#000cf9"/>
<circle cx="1735.52" cy="1919.5" r="3.25" fill="#000df9"/>
<circle cx="1738.66" cy="1919.5" r="3.25" fill="#000ef8"/>
<circle cx="1741.8" cy="1919.5" r="3.25" fill="#000ff8"/>
<circle cx="1744.94" cy="1919.5" r="3.25" fill="#0010f7"/>
<circle cx="1748.08" cy="1919.5" r="3.25" fill="#0010f7"/>
<circle cx="1751.22" cy="1919.5" r="3.25" fill="#0011f6"/>
<circle cx="1754.36" cy="1919.5" r="3.25" fill="#0012f6"/>
<circle cx="1757.5" cy="1919.5" r="3.25" fill="#0013f6"/>
<circle cx="1760.64" cy="1919.5" r="3.25" fill="#0014f5"/>
<circle cx="1763.78" cy="1919.5" r="3.25" fill="#0015f5"/>
<circle cx="1766.92" cy="1919.5" r="3.25" fill="#0016f4"/>
<circle cx="1770.06" cy="1919.5" r="3.25" fill="#0016f4"/>
<circle cx="1773.2" cy="1919.5" r="3.25" fill="#0017f3"/>
<circle cx="1776.34" cy="1919.5" r="3.25" fill="#0018f3"/>
<circle cx="1779.48" cy="1919.5" r="3.25" fill="#0019f3"/>
<circle cx="1782.62" cy="1919.5" r="3.25" fill="#001af2"/>
<circle cx="1785.76" cy="1919.5" r="3.25" fill="#001bf2"/>
<circle cx="1788.9" cy="1919.5" r="3.25" fill="#001cf1"/>
<circle cx="1792.04" cy="1919.5" r="3.25" fill="#001cf1"/>
<circle cx="1795.18" cy="1919.43" r="3.25" fill="#001df0"/>
<circle cx="1798.32" cy="1919.25" r="3.25" fill="#001ef0"/>
<circle cx="1801.46" cy="1918.67" r="3.25" fill="#001fef"/>
<circle cx="1804.6" cy="1918.09" r="3.25" fill="#0020ef"/>
<circle cx="1807.74" cy="1917.51" r="3.25" fill="#0021ef"/>
<circle cx="1810.88" cy="1915.88" r="3.25" fill="#0022ee"/>
<circle cx="1814.02" cy="1914" r="3.25" fill="#0022ee"/>
<circle cx="1817.16" cy="1912.24" r="3.25" fill="#0023ed"/>
<circle cx="1820.3" cy="1911.65" r="3.25" fill="#0024ed"/>
<circle cx="1823.44" cy="1911.06" r="3.25" fill="#0025ec"/>
<circle cx="1826.58" cy="1910.96" r="3.25" fill="#0026ec"/>
<circle cx="1829.72" cy="1910.86" r="3.25" fill="#0027ec"/>
<circle cx="1832.86" cy="1911.39" r="3.25" fill="#0028eb"/>
<circle cx="1836" cy="1912.56" r="3.25" fill="#0028eb"/>
<circle cx="1839.14" cy="1913.72" r="3.25" fill="#0029ea"/>
<circle cx="1842.28" cy="1914.89" r="3.25" fill="#002aea"/>
<circle cx="1845.42" cy="1916.06" r="3.25" fill="#002be9"/>
<circle cx="1848.56" cy="1917.23" r="3.25" fill="#002ce9"/>
<circle cx="1851.7" cy="1918.4" r="3.25" fill="#002de9"/>
<circle cx="1854.84" cy="1917.85" r="3.25" fill="#002ee8"/>
<circle cx="1857.98" cy="1916.55" r="3.25" fill="#002fe8"/>
<circle cx="1861.12" cy="1914.36" r="3.25" fill="#002fe7"/>
<circle cx="1864.26" cy="1910.81" r="3.25" fill="#0030e7"/>
<circle cx="1867.4" cy="1901.16" r="3.25" fill="#0031e6"/>
<circle cx="1870.54" cy="1891.57" r="3.25" fill="#0032e6"/>
<circle cx="1873.68" cy="1881.02" r="3.25" fill="#0033e6"/>
<circle cx="1876.82" cy="1871.85" r="3.25" fill="#0034e5"/>
<circle cx="1879.96" cy="1867.87" r="3.25" fill="#0035e5"/>
<circle cx="1883.1" cy="1868.38" r="3.25" fill="#0035e4"/>
<circle cx="1886.24" cy="1871.73" r="3.25" fill="#0036e4"/>
<circle cx="1889.38" cy="1877.43" r="3.25" fill="#0037e3"/>
<circle cx="1892.52" cy="1881.74" r="3.25" fill="#0038e3"/>
<circle cx="1895.66" cy="1882.91" r="3.25" fill="#0039e3"/>
<circle cx="1898.8" cy="1883.91" r="3.25" fill="#003ae2"/>
<circle cx="1901.94" cy="1884.74" r="3.25" fill="#003be2"/>
<circle cx="1905.08" cy="1885.81" r="3.25" fill="#003be1"/>
<circle cx="1908.22" cy="1886.99" r="3.25" fill="#003ce1"/>
<circle cx="1911.36" cy="1887.99" r="3.25" fill="#003de0"/>
<circle cx="1914.5" cy="1888.95" r="3.25" fill="#003ee0"/>
<circle cx="1917.64" cy="1889.45" r="3.25" fill="#003fe0"/>
<circle cx="1920.78" cy="1889.64" r="3.25" fill="#0040df"/>
<circle cx="1923.92" cy="1889.83" r="3.25" fill="#0041df"/>
<circle cx="1927.06" cy="1890.01" r="3.25" fill="#0041de"/>
<circle cx="1930.2" cy="1890.2" r="3.25" fill="#0042de"/>
<circle cx="1933.34" cy="1889.33" r="3.25" fill="#0043dd"/>
<circle cx="1936.48" cy="1888.46" r="3.25" fill="#0044dd"/>
<circle cx="1939.62" cy="1887" r="3.25" fill="#0045dd"/>
<circle cx="1942.76" cy="1884.17" r="3.25" fill="#0046dc"/>
<circle cx="1945.9" cy="1882.27" r="3.25" fill="#0047dc"/>
<circle cx="1949.04" cy="1881.52" r="3.25" fill="#0048db"/>
<circle cx="1952.18" cy="1882.84" r="3.25" fill="#0048db"/>
<circle cx="1955.32" cy="1884.39" r="3.25" fill="#0049da"/>
<circle cx="1958.46" cy="1886.18" r="3.25" fill="#004ada"/>
<circle cx="1961.6" cy="1884.56" r="3.25" fill="#004bda"/>
<circle cx="1964.74" cy="1882.32" r="3.25" fill="#004cd9"/>
<circle cx="1967.88" cy="1877.98" r="3.25" fill="#004dd9"/>
<circle cx="1971.02" cy="1873.55" r="3.25" fill="#004ed8"/>
<circle cx="1974.16" cy="1868.94" r="3.25" fill="#004ed8"/>
<circle cx="1977.3" cy="1866.68" r="3.25" fill="#004fd7"/>
<circle cx="1980.44" cy="1865.03" r="3.25" fill="#0050d7"/>
<circle cx="1983.58" cy="1866.53" r="3.25" fill="#0051d7"/>
<circle cx="1986.72" cy="1868.73" r="3.25" fill="#0052d6"/>
<circle cx="1989.86" cy="1873.69" r="3.25" fill="#0053d6"/>
<circle cx="1993" cy="1876.98" r="3.25" fill="#0054d5"/>
<circle cx="1996.14" cy="1879.16" r="3.25" fill="#0054d5"/>
<circle cx="1999.28" cy="1880.4" r="3.25" fill="#0055d4"/>
<circle cx="2002.42" cy="1881.44" r="3.25" fill="#0056d4"/>
<circle cx="2005.56" cy="1881.67" r="3.25" fill="#0057d3"/>
<circle cx="2008.7" cy="1881.9" r="3.25" fill="#0058d3"/>
<circle cx="2011.84" cy="1882.14" r="3.25" fill="#0059d3"/>
<circle cx="2014.98" cy="1880.84" r="3.25" fill="#005ad2"/>
<circle cx="2018.12" cy="1879.54" r="3.25" fill="#005ad2"/>
<circle cx="2021.26" cy="1878.34" r="3.25" fill="#005bd1"/>
<circle cx="2024.4" cy="1877.16" r="3.25" fill="#005cd1"/>
<circle cx="2027.54" cy="1878.47" r="3.25" fill="#005dd0"/>
<circle cx="2030.68" cy="1879.94" r="3.25" fill="#005ed0"/>
<circle cx="2033.82" cy="1880.33" r="3.25" fill="#005fd0"/>
<circle cx="2036.96" cy="1880.21" r="3.25" fill="#0060cf"/>
<circle cx="2040.1" cy="1878.01" r="3.25" fill="#0060cf"/>
<circle cx="2043.24" cy="1874.55" r="3.25" fill="#0061ce"/>
<circle cx="2046.38" cy="1869.39" r="3.25" fill="#0062ce"/>
<circle cx="2049.52" cy="1863.14" r="3.25" fill="#0063cd"/>
<circle cx="2052.66" cy="1857.43" r="3.25" fill="#0064cd"/>
<circle cx="2055.8" cy="1852.59" r="3.25" fill="#0065cd"/>
<circle cx="2058.94" cy="1849.54" r="3.25" fill="#0066cc"/>
<circle cx="2062.08" cy="1846.14" r="3.25" fill="#0067cc"/>
<circle cx="2065.22" cy="1842.41" r="3.25" fill="#0067cb"/>
<circle cx="2068.36" cy="1838.58" r="3.25" fill="#0068cb"/>
<circle cx="2071.5" cy="1832.61" r="3.25" fill="#0069ca"/>
<circle cx="2074.64" cy="1823.38" r="3.25" fill="#006aca"/>
<circle cx="2077.78" cy="1809.02" r="3.25" fill="#006bca"/>
<circle cx="2080.92" cy="1787.42" r="3.25" fill="#006cc9"/>
<circle cx="2084.06" cy="1768.8" r="3.25" fill="#006dc9"/>
<circle cx="2087.2" cy="1756.32" r="3.25" fill="#006dc8"/>
<circle cx="2090.34" cy="1746.99" r="3.25" fill="#006ec8"/>
<circle cx="2093.48" cy="1737.44" r="3.25" fill="#006fc7"/>
<circle cx="2096.62" cy="1729.2" r="3.25" fill="#0070c7"/>
<circle cx="2099.76" cy="1720.51" r="3.25" fill="#0071c7"/>
<circle cx="2102.9" cy="1710.33" r="3.25" fill="#0072c6"/>
<circle cx="2106.04" cy="1698.54" r="3.25" fill="#0073c6"/>
<circle cx="2109.18" cy="1690.3" r="3.25" fill="#0073c5"/>
<circle cx="2112.32" cy="1683.52" r="3.25" fill="#0074c5"/>
<circle cx="2115.46" cy="1681.49" r="3.25" fill="#0075c4"/>
<circle cx="2118.6" cy="1678.71" r="3.25" fill="#0076c4"/>
<circle cx="2121.74" cy="1672.62" r="3.25" fill="#0077c4"/>
<circle cx="2124.88" cy="1664.53" r="3.25" fill="#0078c3"/>
<circle cx="2128.02" cy="1659.44" r="3.25" fill="#0079c3"/>
<circle cx="2131.16" cy="1652.61" r="3.25" fill="#0079c2"/>
<circle cx="2134.3" cy="1641.81" r="3.25" fill="#007ac2"/>
<circle cx="2137.44" cy="1627.66" r="3.25" fill="#007bc1"/>
<circle cx="2140.58" cy="1614" r="3.25" fill="#007cc1"/>
<circle cx="2143.72" cy="1607.67" r="3.25" fill="#007dc1"/>
<circle cx="2146.86" cy="1608.29" r="3.25" fill="#007ec0"/>
<circle cx="2150" cy="1606.55" r="3.25" fill="#007fc0"/>
<circle cx="2153.14" cy="1603.33" r="3.25" fill="#0080bf"/>
<circle cx="2156.28" cy="1599.35" r="3.25" fill="#0080bf"/>
<circle cx="2159.42" cy="1595.01" r="3.25" fill="#0081be"/>
<circle cx="2162.56" cy="1590.67" r="3.25" fill="#0082be"/>
<circle cx="2165.7" cy="1587.07" r="3.25" fill="#0083be"/>
<circle cx="2168.84" cy="1585.15" r="3.25" fill="#0084bd"/>
<circle cx="2171.98" cy="1584.14" r="3.25" fill="#0085bd"/>
<circle cx="2175.12" cy="1584.62" r="3.25" fill="#0086bc"/>
<circle cx="2178.26" cy="1586.16" r="3.25" fill="#0086bc"/>
<circle cx="2181.4" cy="1587.99" r="3.25" fill="#0087bb"/>
<circle cx="2184.54" cy="1589.41" r="3.25" fill="#0088bb"/>
<circle cx="2187.68" cy="1589.73" r="3.25" fill="#0089bb"/>
<circle cx="2190.82" cy="1589.87" r="3.25" fill="#008aba"/>
<circle cx="2193.96" cy="1589.4" r="3.25" fill="#008bba"/>
<circle cx="2197.1" cy="1588.93" r="3.25" fill="#008cb9"/>
<circle cx="2200.24" cy="1589.99" r="3.25" fill="#008cb9"/>
<circle cx="2203.38" cy="1591.73" r="3.25" fill="#008db8"/>
<circle cx="2206.52" cy="1593.7" r="3.25" fill="#008eb8"/>
<circle cx="2209.66" cy="1595.12" r="3.25" fill="#008fb7"/>
<circle cx="2212.8" cy="1595.76" r="3.25" fill="#0090b7"/>
<circle cx="2215.94" cy="1593.18" r="3.25" fill="#0091b7"/>
<circle cx="2219.08" cy="1589.98" r="3.25" fill="#0092b6"/>
<circle cx="2222.22" cy="1587.81" r="3.25" fill="#0092b6"/>
<circle cx="2225.36" cy="1587.58" r="3.25" fill="#0093b5"/>
<circle cx="2228.5" cy="1587.07" r="3.25" fill="#0094b5"/>
<circle cx="2231.64" cy="1586.07" r="3.25" fill="#0095b4"/>
<circle cx="2234.78" cy="1583.47" r="3.25" fill="#0096b4"/>
<circle cx="2237.92" cy="1574.18" r="3.25" fill="#0097b4"/>
<circle cx="2241.06" cy="1566.62" r="3.25" fill="#0098b3"/>
<circle cx="2244.2" cy="1556.6" r="3.25" fill="#0098b3"/>
<circle cx="2247.34" cy="1553.55" r="3.25" fill="#0099b2"/>
<circle cx="2250.48" cy="1562.61" r="3.25" fill="#009ab2"/>
<circle cx="2253.62" cy="1566.96" r="3.25" fill="#009bb1"/>
<circle cx="2256.76" cy="1570.56" r="3.25" fill="#009cb1"/>
<circle cx="2259.9" cy="1586.82" r="3.25" fill="#009db1"/>
<circle cx="2263.04" cy="1607.92" r="3.25" fill="#009eb0"/>
<circle cx="2266.18" cy="1625.51" r="3.25" fill="#009fb0"/>
<circle cx="2269.32" cy="1633.28" r="3.25" fill="#009faf"/>
<circle cx="2272.46" cy="1624.93" r="3.25" fill="#00a0af"/>
<circle cx="2275.6" cy="1609.66" r="3.25" fill="#00a1ae"/>
<circle cx="2278.74" cy="1591.72" r="3.25" fill="#00a2ae"/>
<circle cx="2281.88" cy="1582.72" r="3.25" fill="#00a3ae"/>
<circle cx="2285.02" cy="1574.16" r="3.25" fill="#00a4ad"/>
<circle cx="2288.16" cy="1570.77" r="3.25" fill="#00a5ad"/>
<circle cx="2291.3" cy="1575.55" r="3.25" fill="#00a5ac"/>
<circle cx="2294.44" cy="1581.93" r="3.25" fill="#00a6ac"/>
<circle cx="2297.58" cy="1587.57" r="3.25" fill="#00a7ab"/>
<circle cx="2300.72" cy="1592.48" r="3.25" fill="#00a8ab"/>
<circle cx="2303.86" cy="1595.76" r="3.25" fill="#00a9ab"/>
<circle cx="2307" cy="1592.16" r="3.25" fill="#00aaaa"/>
<circle cx="2310.14" cy="1589.92" r="3.25" fill="#00abaa"/>
<circle cx="2313.28" cy="1587.07" r="3.25" fill="#00aba9"/>
<circle cx="2316.42" cy="1579.84" r="3.25" fill="#00aca9"/>
<circle cx="2319.56" cy="1568.84" r="3.25" fill="#00ada8"/>
<circle cx="2322.7" cy="1555.41" r="3.25" fill="#00aea8"/>
<circle cx="2325.84" cy="1543.99" r="3.25" fill="#00afa8"/>
<circle cx="2328.98" cy="1531.45" r="3.25" fill="#00b0a7"/>
<circle cx="2332.12" cy="1526.49" r="3.25" fill="#00b1a7"/>
<circle cx="2335.26" cy="1524.13" r="3.25" fill="#00b1a6"/>
<circle cx="2338.4" cy="1531.2" r="3.25" fill="#00b2a6"/>
<circle cx="2341.54" cy="1541.02" r="3.25" fill="#00b3a5"/>
<circle cx="2344.68" cy="1552.71" r="3.25" fill="#00b4a5"/>
<circle cx="2347.82" cy="1565.22" r="3.25" fill="#00b5a5"/>
<circle cx="2350.96" cy="1576.76" r="3.25" fill="#00b6a4"/>
<circle cx="2354.1" cy="1587.19" r="3.25" fill="#00b7a4"/>
<circle cx="2357.24" cy="1603.82" r="3.25" fill="#00b7a3"/>
<circle cx="2360.38" cy="1619.96" r="3.25" fill="#00b8a3"/>
<circle cx="2363.52" cy="1634.11" r="3.25" fill="#00b9a2"/>
<circle cx="2366.66" cy="1655.34" r="3.25" fill="#00baa2"/>
<circle cx="2369.8" cy="1673.84" r="3.25" fill="#00bba2"/>
<circle cx="2372.94" cy="1676.19" r="3.25" fill="#00bca1"/>
<circle cx="2376.08" cy="1678.43" r="3.25" fill="#00bda1"/>
<circle cx="2379.22" cy="1688.73" r="3.25" fill="#00bea0"/>
<circle cx="2382.36" cy="1696.68" r="3.25" fill="#00bea0"/>
<circle cx="2385.5" cy="1711.2" r="3.25" fill="#00bf9f"/>
<circle cx="2388.64" cy="1729.08" r="3.25" fill="#00c09f"/>
<circle cx="2391.78" cy="1745.96" r="3.25" fill="#00c19f"/>
<circle cx="2394.92" cy="1763.83" r="3.25" fill="#00c29e"/>
<circle cx="2398.06" cy="1779.6" r="3.25" fill="#00c39e"/>
<circle cx="2401.2" cy="1790.52" r="3.25" fill="#00c49d"/>
<circle cx="2404.34" cy="1799.83" r="3.25" fill="#00c49d"/>
<circle cx="2407.48" cy="1807.65" r="3.25" fill="#00c59c"/>
<circle cx="2410.62" cy="1813.41" r="3.25" fill="#00c69c"/>
<circle cx="2413.76" cy="1817.56" r="3.25" fill="#00c79b"/>
<circle cx="2416.9" cy="1820.9" r="3.25" fill="#00c89b"/>
<circle cx="2420.04" cy="1822.89" r="3.25" fill="#00c99b"/>
<circle cx="2423.18" cy="1823.46" r="3.25" fill="#00ca9a"/>
<circle cx="2426.32" cy="1821.2" r="3.25" fill="#00ca9a"/>
<circle cx="2429.46" cy="1817.68" r="3.25" fill="#00cb99"/>
<circle cx="2432.6" cy="1814.65" r="3.25" fill="#00cc99"/>
<circle cx="2435.74" cy="1812.45" r="3.25" fill="#00cd98"/>
<circle cx="2438.88" cy="1810.45" r="3.25" fill="#00ce98"/>
<circle cx="2442.02" cy="1805.84" r="3.25" fill="#00cf98"/>
<circle cx="2445.16" cy="1798.84" r="3.25" fill="#00d097"/>
<circle cx="2448.3" cy="1788.91" r="3.25" fill="#00d097"/>
<circle cx="2451.44" cy="1774.51" r="3.25" fill="#00d196"/>
<circle cx="2454.58" cy="1755.14" r="3.25" fill="#00d296"/>
<circle cx="2457.72" cy="1731.06" r="3.25" fill="#00d395"/>
<circle cx="2460.86" cy="1707.53" r="3.25" fill="#00d495"/>
<circle cx="2464" cy="1690.88" r="3.25" fill="#00d595"/>
<circle cx="2467.14" cy="1687.05" r="3.25" fill="#00d694"/>
<circle cx="2470.28" cy="1691.21" r="3.25" fill="#00d794"/>
<circle cx="2473.42" cy="1693.57" r="3.25" fill="#00d793"/>
<circle cx="2476.56" cy="1692.33" r="3.25" fill="#00d893"/>
<circle cx="2479.7" cy="1689.48" r="3.25" fill="#00d992"/>
<circle cx="2482.84" cy="1682.63" r="3.25" fill="#00da92"/>
<circle cx="2485.98" cy="1672.81" r="3.25" fill="#00db92"/>
<circle cx="2489.12" cy="1667.71" r="3.25" fill="#00dc91"/>
<circle cx="2492.26" cy="1666.88" r="3.25" fill="#00dd91"/>
<circle cx="2495.4" cy="1664.53" r="3.25" fill="#00dd90"/>
<circle cx="2498.54" cy="1653.87" r="3.25" fill="#00de90"/>
<circle cx="2501.68" cy="1639.2" r="3.25" fill="#00df8f"/>
<circle cx="2504.82" cy="1619.96" r="3.25" fill="#00e08f"/>
<circle cx="2507.96" cy="1612.51" r="3.25" fill="#00e18f"/>
<circle cx="2511.1" cy="1608.91" r="3.25" fill="#00e28e"/>
<circle cx="2514.24" cy="1617.5" r="3.25" fill="#00e38e"/>
<circle cx="2517.38" cy="1628.9" r="3.25" fill="#00e38d"/>
<circle cx="2520.52" cy="1649.69" r="3.25" fill="#00e48d"/>
<circle cx="2523.66" cy="1669.78" r="3.25" fill="#00e58c"/>
<circle cx="2526.8" cy="1685.74" r="3.25" fill="#00e68c"/>
<circle cx="2529.94" cy="1695.48" r="3.25" fill="#00e78c"/>
<circle cx="2533.08" cy="1693.45" r="3.25" fill="#00e88b"/>
<circle cx="2536.22" cy="1681.64" r="3.25" fill="#00e98b"/>
<circle cx="2539.36" cy="1666.66" r="3.25" fill="#00e98a"/>
<circle cx="2542.5" cy="1652.31" r="3.25" fill="#00ea8a"/>
<circle cx="2545.64" cy="1641.16" r="3.25" fill="#00eb89"/>
<circle cx="2548.78" cy="1634.97" r="3.25" fill="#00ec89"/>
<circle cx="2551.92" cy="1631.27" r="3.25" fill="#00ed89"/>
<circle cx="2555.06" cy="1628.9" r="3.25" fill="#00ee88"/>
<circle cx="2558.2" cy="1627.16" r="3.25" fill="#00ef88"/>
<circle cx="2561.34" cy="1626.02" r="3.25" fill="#00ef87"/>
<circle cx="2564.48" cy="1625.8" r="3.25" fill="#00f087"/>
<circle cx="2567.62" cy="1628.9" r="3.25" fill="#00f186"/>
<circle cx="2570.76" cy="1633" r="3.25" fill="#00f286"/>
<circle cx="2573.9" cy="1637.15" r="3.25" fill="#00f386"/>
<circle cx="2577.04" cy="1640.41" r="3.25" fill="#00f485"/>
<circle cx="2580.18" cy="1644.85" r="3.25" fill="#00f585"/>
<circle cx="2583.32" cy="1647.86" r="3.25" fill="#00f684"/>
<circle cx="2586.46" cy="1650" r="3.25" fill="#00f684"/>
<circle cx="2589.6" cy="1648.54" r="3.25" fill="#00f783"/>
<circle cx="2592.74" cy="1646.38" r="3.25" fill="#00f883"/>
<circle cx="2595.88" cy="1643.3" r="3.25" fill="#00f983"/>
<circle cx="2599.02" cy="1642.31" r="3.25" fill="#00fa82"/>
<circle cx="2602.16" cy="1642.31" r="3.25" fill="#00fb82"/>
<circle cx="2605.3" cy="1643.8" r="3.25" fill="#00fc81"/>
<circle cx="2608.44" cy="1646.9" r="3.25" fill="#00fc81"/>
<circle cx="2611.58" cy="1650.23" r="3.25" fill="#00fd80"/>
<circle cx="2614.72" cy="1652.41" r="3.25" fill="#00fe80"/>
<circle cx="2617.86" cy="1654.1" r="3.25" fill="#00ff80"/>
<circle cx="1688.42" cy="1919.5" r="3.25" fill="#ff0000"/>
<circle cx="1691.56" cy="1919.5" r="3.25" fill="#ff0100"/>
<circle cx="1694.7" cy="1919.5" r="3.25" fill="#ff0200"/>
<circle cx="1697.84" cy="1919.5" r="3.25" fill="#ff0300"/>
<circle cx="1700.98" cy="1919.5" r="3.25" fill="#ff0300"/>
<circle cx="1704.12" cy="1919.5" r="3.25" fill="#ff0400"/>
<circle cx="1707.26" cy="1919.5" r="3.25" fill="#ff0500"/>
<circle cx="1710.4" cy="1919.5" r="3.25" fill="#ff0600"/>
<circle cx="1713.54" cy="1919.5" r="3.25" fill="#ff0700"/>
<circle cx="1716.68" cy="1919.5" r="3.25" fill="#ff0800"/>
<circle cx="1719.82" cy="1919.5" r="3.25" fill="#ff0900"/>
<circle cx="1722.96" cy="1919.5" r="3.25" fill="#ff0900"/>
<circle cx="1726.1" cy="1919.5" r="3.25" fill="#ff0a00"/>
<circle cx="1729.24" cy="1919.5" r="3.25" fill="#ff0b00"/>
<circle cx="1732.38" cy="1919.5" r="3.25" fill="#ff0c00"/>
<circle cx="1735.52" cy="1919.5" r="3.25" fill="#ff0d00"/>
<circle cx="1738.66" cy="1919.5" r="3.25" fill="#ff0e00"/>
<circle cx="1741.8" cy="1919.5" r="3.25" fill="#ff0f00"/>
<circle cx="1744.94" cy="1919.5" r="3.25" fill="#ff1000"/>
<circle cx="1748.08" cy="1919.5" r="3.25" fill="#ff1000"/>
<circle cx="1751.22" cy="1919.5" r="3.25" fill="#ff1100"/>
<circle cx="1754.36" cy="1919.5" r="3.25" fill="#ff1200"/>
<circle cx="1757.5" cy="1919.5" r="3.25" fill="#ff1300"/>
<circle cx="1760.64" cy="1919.5" r="3.25" fill="#ff1400"/>
<circle cx="1763.78" cy="1919.5" r="3.25" fill="#ff1500"/>
<circle cx="1766.92" cy="1919.5" r="3.25" fill="#ff1600"/>
<circle cx="1770.06" cy="1919.5" r="3.25" fill="#ff1600"/>
<circle cx="1773.2" cy="1919.5" r="3.25" fill="#ff1700"/>
<circle cx="1776.34" cy="1919.5" r="3.25" fill="#ff1800"/>
<circle cx="1779.48" cy="1919.5" r="3.25" fill="#ff1900"/>
<circle cx="1782.62" cy="1919.5" r="3.25" fill="#ff1a00"/>
<circle cx="1785.76" cy="1919.5" r="3.25" fill="#ff1b00"/>
<circle cx="1788.9" cy="1919.5" r="3.25" fill="#ff1c00"/>
<circle cx="1792.04" cy="1919.5" r="3.25" fill="#ff1c00"/>
<circle cx="1795.18" cy="1919.5" r="3.25" fill="#ff1d00"/>
<circle cx="1798.32" cy="1919.23" r="3.25" fill="#ff1e00"/>
<circle cx="1801.46" cy="1918.36" r="3.25" fill="#ff1f00"/>
<circle cx="1804.6" cy="1914.36" r="3.25" fill="#ff2000"/>
<circle cx="1807.74" cy="1910.37" r="3.25" fill="#ff2100"/>
<circle cx="1810.88" cy="1907.24" r="3.25" fill="#ff2200"/>
<circle cx="1814.02" cy="1904.32" r="3.25" fill="#ff2200"/>
<circle cx="1817.16" cy="1906.6" r="3.25" fill="#ff2300"/>
<circle cx="1820.3" cy="1910.19" r="3.25" fill="#ff2400"/>
<circle cx="1823.44" cy="1915.57" r="3.25" fill="#ff2500"/>
<circle cx="1826.58" cy="1921.06" r="3.25" fill="#ff2600"/>
<circle cx="1829.72" cy="1923.44" r="3.25" fill="#ff2700"/>
<circle cx="1832.86" cy="1922.85" r="3.25" fill="#ff2800"/>
<circle cx="1836" cy="1919.04" r="3.25" fill="#ff2800"/>
<circle cx="1839.14" cy="1905.1" r="3.25" fill="#ff2900"/>
<circle cx="1842.28" cy="1886.36" r="3.25" fill="#ff2a00"/>
<circle cx="1845.42" cy="1865.5" r="3.25" fill="#ff2b00"/>
<circle cx="1848.56" cy="1846.88" r="3.25" fill="#ff2c00"/>
<circle cx="1851.7" cy="1838.98" r="3.25" fill="#ff2d00"/>
<circle cx="1854.84" cy="1840.43" r="3.25" fill="#ff2e00"/>
<circle cx="1857.98" cy="1854.08" r="3.25" fill="#ff2f00"/>
<circle cx="1861.12" cy="1874.28" r="3.25" fill="#ff2f00"/>
<circle cx="1864.26" cy="1897.16" r="3.25" fill="#ff3000"/>
<circle cx="1867.4" cy="1908.33" r="3.25" fill="#ff3100"/>
<circle cx="1870.54" cy="1905.84" r="3.25" fill="#ff3200"/>
<circle cx="1873.68" cy="1891.45" r="3.25" fill="#ff3300"/>
<circle cx="1876.82" cy="1873.45" r="3.25" fill="#ff3400"/>
<circle cx="1879.96" cy="1855.45" r="3.25" fill="#ff3500"/>
<circle cx="1883.1" cy="1845.28" r="3.25" fill="#ff3500"/>
<circle cx="1886.24" cy="1844.14" r="3.25" fill="#ff3600"/>
<circle cx="1889.38" cy="1851.85" r="3.25" fill="#ff3700"/>
<circle cx="1892.52" cy="1863.64" r="3.25" fill="#ff3800"/>
<circle cx="1895.66" cy="1877.05" r="3.25" fill="#ff3900"/>
<circle cx="1898.8" cy="1892.93" r="3.25" fill="#ff3a00"/>
<circle cx="1901.94" cy="1910.56" r="3.25" fill="#ff3b00"/>
<circle cx="1905.08" cy="1923.47" r="3.25" fill="#ff3b00"/>
<circle cx="1908.22" cy="1931.6" r="3.25" fill="#ff3c00"/>
<circle cx="1911.36" cy="1938.89" r="3.25" fill="#ff3d00"/>
<circle cx="1914.5" cy="1943.13" r="3.25" fill="#ff3e00"/>
<circle cx="1917.64" cy="1945.54" r="3.25" fill="#ff3f00"/>
<circle cx="1920.78" cy="1946.94" r="3.25" fill="#ff4000"/>
<circle cx="1923.92" cy="1947.95" r="3.25" fill="#ff4100"/>
<circle cx="1927.06" cy="1948.03" r="3.25" fill="#ff4100"/>
<circle cx="1930.2" cy="1948.11" r="3.25" fill="#ff4200"/>
<circle cx="1933.34" cy="1948.19" r="3.25" fill="#ff4300"/>
<circle cx="1936.48" cy="1948.27" r="3.25" fill="#ff4400"/>
<circle cx="1939.62" cy="1948.34" r="3.25" fill="#ff4500"/>
<circle cx="1942.76" cy="1948.39" r="3.25" fill="#ff4600"/>
<circle cx="1945.9" cy="1948.44" r="3.25" fill="#ff4700"/>
<circle cx="1949.04" cy="1948.5" r="3.25" fill="#ff4800"/>
<circle cx="1952.18" cy="1948.6" r="3.25" fill="#ff4800"/>
<circle cx="1955.32" cy="1949.11" r="3.25" fill="#ff4900"/>
<circle cx="1958.46" cy="1949.61" r="3.25" fill="#ff4a00"/>
<circle cx="1961.6" cy="1949.28" r="3.25" fill="#ff4b00"/>
<circle cx="1964.74" cy="1948.85" r="3.25" fill="#ff4c00"/>
<circle cx="1967.88" cy="1948.43" r="3.25" fill="#ff4d00"/>
<circle cx="1971.02" cy="1947.43" r="3.25" fill="#ff4e00"/>
<circle cx="1974.16" cy="1946.19" r="3.25" fill="#ff4e00"/>
<circle cx="1977.3" cy="1945.07" r="3.25" fill="#ff4f00"/>
<circle cx="1980.44" cy="1944.14" r="3.25" fill="#ff5000"/>
<circle cx="1983.58" cy="1946.17" r="3.25" fill="#ff5100"/>
<circle cx="1986.72" cy="1950.55" r="3.25" fill="#ff5200"/>
<circle cx="1989.86" cy="1955.65" r="3.25" fill="#ff5300"/>
<circle cx="1993" cy="1957.91" r="3.25" fill="#ff5400"/>
<circle cx="1996.14" cy="1953.52" r="3.25" fill="#ff5400"/>
<circle cx="1999.28" cy="1950.29" r="3.25" fill="#ff5500"/>
<circle cx="2002.42" cy="1948.39" r="3.25" fill="#ff5600"/>
<circle cx="2005.56" cy="1950.69" r="3.25" fill="#ff5700"/>
<circle cx="2008.7" cy="1952.58" r="3.25" fill="#ff5800"/>
<circle cx="2011.84" cy="1953.68" r="3.25" fill="#ff5900"/>
<circle cx="2014.98" cy="1952.06" r="3.25" fill="#ff5a00"/>
<circle cx="2018.12" cy="1948.66" r="3.25" fill="#ff5a00"/>
<circle cx="2021.26" cy="1941.84" r="3.25" fill="#ff5b00"/>
<circle cx="2024.4" cy="1930.3" r="3.25" fill="#ff5c00"/>
<circle cx="2027.54" cy="1917.76" r="3.25" fill="#ff5d00"/>
<circle cx="2030.68" cy="1908.33" r="3.25" fill="#ff5e00"/>
<circle cx="2033.82" cy="1901.5" r="3.25" fill="#ff5f00"/>
<circle cx="2036.96" cy="1895.79" r="3.25" fill="#ff6000"/>
<circle cx="2040.1" cy="1892.52" r="3.25" fill="#ff6000"/>
<circle cx="2043.24" cy="1890.18" r="3.25" fill="#ff6100"/>
<circle cx="2046.38" cy="1886.72" r="3.25" fill="#ff6200"/>
<circle cx="2049.52" cy="1882.56" r="3.25" fill="#ff6300"/>
<circle cx="2052.66" cy="1879.16" r="3.25" fill="#ff6400"/>
<circle cx="2055.8" cy="1881.39" r="3.25" fill="#ff6500"/>
<circle cx="2058.94" cy="1886.58" r="3.25" fill="#ff6600"/>
<circle cx="2062.08" cy="1895.05" r="3.25" fill="#ff6700"/>
<circle cx="2065.22" cy="1900.24" r="3.25" fill="#ff6700"/>
<circle cx="2068.36" cy="1901.71" r="3.25" fill="#ff6800"/>
<circle cx="2071.5" cy="1902.3" r="3.25" fill="#ff6900"/>
<circle cx="2074.64" cy="1902.42" r="3.25" fill="#ff6a00"/>
<circle cx="2077.78" cy="1902.44" r="3.25" fill="#ff6b00"/>
<circle cx="2080.92" cy="1902.3" r="3.25" fill="#ff6c00"/>
<circle cx="2084.06" cy="1901.34" r="3.25" fill="#ff6d00"/>
<circle cx="2087.2" cy="1899.07" r="3.25" fill="#ff6d00"/>
<circle cx="2090.34" cy="1893.82" r="3.25" fill="#ff6e00"/>
<circle cx="2093.48" cy="1889.07" r="3.25" fill="#ff6f00"/>
<circle cx="2096.62" cy="1883.5" r="3.25" fill="#ff7000"/>
<circle cx="2099.76" cy="1879.55" r="3.25" fill="#ff7100"/>
<circle cx="2102.9" cy="1879.53" r="3.25" fill="#ff7200"/>
<circle cx="2106.04" cy="1883.5" r="3.25" fill="#ff7300"/>
<circle cx="2109.18" cy="1887.1" r="3.25" fill="#ff7300"/>
<circle cx="2112.32" cy="1882.51" r="3.25" fill="#ff7400"/>
<circle cx="2115.46" cy="1872.33" r="3.25" fill="#ff7500"/>
<circle cx="2118.6" cy="1862.65" r="3.25" fill="#ff7600"/>
<circle cx="2121.74" cy="1858.3" r="3.25" fill="#ff7700"/>
<circle cx="2124.88" cy="1856.94" r="3.25" fill="#ff7800"/>
<circle cx="2128.02" cy="1860.16" r="3.25" fill="#ff7900"/>
<circle cx="2131.16" cy="1860.84" r="3.25" fill="#ff7900"/>
<circle cx="2134.3" cy="1849.24" r="3.25" fill="#ff7a00"/>
<circle cx="2137.44" cy="1830.62" r="3.25" fill="#ff7b00"/>
<circle cx="2140.58" cy="1806.16" r="3.25" fill="#ff7c00"/>
<circle cx="2143.72" cy="1779.6" r="3.25" fill="#ff7d00"/>
<circle cx="2146.86" cy="1758.12" r="3.25" fill="#ff7e00"/>
<circle cx="2150" cy="1746.08" r="3.25" fill="#ff7f00"/>
<circle cx="2153.14" cy="1740.74" r="3.25" fill="#ff8000"/>
<circle cx="2156.28" cy="1741.99" r="3.25" fill="#ff8000"/>
<circle cx="2159.42" cy="1749.06" r="3.25" fill="#ff8100"/>
<circle cx="2162.56" cy="1754.03" r="3.25" fill="#ff8200"/>
<circle cx="2165.7" cy="1753.82" r="3.25" fill="#ff8300"/>
<circle cx="2168.84" cy="1743.23" r="3.25" fill="#ff8400"/>
<circle cx="2171.98" cy="1728.58" r="3.25" fill="#ff8500"/>
<circle cx="2175.12" cy="1720.14" r="3.25" fill="#ff8600"/>
<circle cx="2178.26" cy="1725.23" r="3.25" fill="#ff8600"/>
<circle cx="2181.4" cy="1736.77" r="3.25" fill="#ff8700"/>
<circle cx="2184.54" cy="1762.64" r="3.25" fill="#ff8800"/>
<circle cx="2187.68" cy="1782.95" r="3.25" fill="#ff8900"/>
<circle cx="2190.82" cy="1794.74" r="3.25" fill="#ff8a00"/>
<circle cx="2193.96" cy="1787.41" r="3.25" fill="#ff8b00"/>
<circle cx="2197.1" cy="1766.32" r="3.25" fill="#ff8c00"/>
<circle cx="2200.24" cy="1746.08" r="3.25" fill="#ff8c00"/>
<circle cx="2203.38" cy="1735.66" r="3.25" fill="#ff8d00"/>
<circle cx="2206.52" cy="1729.2" r="3.25" fill="#ff8e00"/>
<circle cx="2209.66" cy="1722.62" r="3.25" fill="#ff8f00"/>
<circle cx="2212.8" cy="1709.66" r="3.25" fill="#ff9000"/>
<circle cx="2215.94" cy="1690.4" r="3.25" fill="#ff9100"/>
<circle cx="2219.08" cy="1669.86" r="3.25" fill="#ff9200"/>
<circle cx="2222.22" cy="1651.86" r="3.25" fill="#ff9200"/>
<circle cx="2225.36" cy="1636.97" r="3.25" fill="#ff9300"/>
<circle cx="2228.5" cy="1619.71" r="3.25" fill="#ff9400"/>
<circle cx="2231.64" cy="1599.6" r="3.25" fill="#ff9500"/>
<circle cx="2234.78" cy="1592.9" r="3.25" fill="#ff9600"/>
<circle cx="2237.92" cy="1597.87" r="3.25" fill="#ff9700"/>
<circle cx="2241.06" cy="1600.92" r="3.25" fill="#ff9800"/>
<circle cx="2244.2" cy="1602.95" r="3.25" fill="#ff9800"/>
<circle cx="2247.34" cy="1600.72" r="3.25" fill="#ff9900"/>
<circle cx="2250.48" cy="1596.03" r="3.25" fill="#ff9a00"/>
<circle cx="2253.62" cy="1588.96" r="3.25" fill="#ff9b00"/>
<circle cx="2256.76" cy="1583.09" r="3.25" fill="#ff9c00"/>
<circle cx="2259.9" cy="1585.7" r="3.25" fill="#ff9d00"/>
<circle cx="2263.04" cy="1591.41" r="3.25" fill="#ff9e00"/>
<circle cx="2266.18" cy="1598.86" r="3.25" fill="#ff9f00"/>
<circle cx="2269.32" cy="1604.32" r="3.25" fill="#ff9f00"/>
<circle cx="2272.46" cy="1605.07" r="3.25" fill="#ffa000"/>
<circle cx="2275.6" cy="1602.46" r="3.25" fill="#ffa100"/>
<circle cx="2278.74" cy="1595.76" r="3.25" fill="#ffa200"/>
<circle cx="2281.88" cy="1592.48" r="3.25" fill="#ffa300"/>
<circle cx="2285.02" cy="1591.48" r="3.25" fill="#ffa400"/>
<circle cx="2288.16" cy="1592.9" r="3.25" fill="#ffa500"/>
<circle cx="2291.3" cy="1596.64" r="3.25" fill="#ffa500"/>
<circle cx="2294.44" cy="1597.75" r="3.25" fill="#ffa600"/>
<circle cx="2297.58" cy="1596.5" r="3.25" fill="#ffa700"/>
<circle cx="2300.72" cy="1593.94" r="3.25" fill="#ffa800"/>
<circle cx="2303.86" cy="1590.67" r="3.25" fill="#ffa900"/>
<circle cx="2307" cy="1584.96" r="3.25" fill="#ffaa00"/>
<circle cx="2310.14" cy="1579.12" r="3.25" fill="#ffab00"/>
<circle cx="2313.28" cy="1574.53" r="3.25" fill="#ffab00"/>
<circle cx="2316.42" cy="1567.7" r="3.25" fill="#ffac00"/>
<circle cx="2319.56" cy="1562.61" r="3.25" fill="#ffad00"/>
<circle cx="2322.7" cy="1559.01" r="3.25" fill="#ffae00"/>
<circle cx="2325.84" cy="1556.4" r="3.25" fill="#ffaf00"/>
<circle cx="2328.98" cy="1554.94" r="3.25" fill="#ffb000"/>
<circle cx="2332.12" cy="1553.45" r="3.25" fill="#ffb100"/>
<circle cx="2335.26" cy="1552.31" r="3.25" fill="#ffb100"/>
<circle cx="2338.4" cy="1553.96" r="3.25" fill="#ffb200"/>
<circle cx="2341.54" cy="1556.88" r="3.25" fill="#ffb300"/>
<circle cx="2344.68" cy="1559.78" r="3.25" fill="#ffb400"/>
<circle cx="2347.82" cy="1561.93" r="3.25" fill="#ffb500"/>
<circle cx="2350.96" cy="1563.11" r="3.25" fill="#ffb600"/>
<circle cx="2354.1" cy="1564.04" r="3.25" fill="#ffb700"/>
<circle cx="2357.24" cy="1564.22" r="3.25" fill="#ffb700"/>
<circle cx="2360.38" cy="1564.22" r="3.25" fill="#ffb800"/>
<circle cx="2363.52" cy="1564.22" r="3.25" fill="#ffb900"/>
<circle cx="2366.66" cy="1564.7" r="3.25" fill="#ffba00"/>
<circle cx="2369.8" cy="1565.22" r="3.25" fill="#ffbb00"/>
<circle cx="2372.94" cy="1566.02" r="3.25" fill="#ffbc00"/>
<circle cx="2376.08" cy="1566.83" r="3.25" fill="#ffbd00"/>
<circle cx="2379.22" cy="1565.53" r="3.25" fill="#ffbe00"/>
<circle cx="2382.36" cy="1564.22" r="3.25" fill="#ffbe00"/>
<circle cx="2385.5" cy="1561.12" r="3.25" fill="#ffbf00"/>
<circle cx="2388.64" cy="1557.12" r="3.25" fill="#ffc000"/>
<circle cx="2391.78" cy="1552.01" r="3.25" fill="#ffc100"/>
<circle cx="2394.92" cy="1546.18" r="3.25" fill="#ffc200"/>
<circle cx="2398.06" cy="1541.58" r="3.25" fill="#ffc300"/>
<circle cx="2401.2" cy="1539.4" r="3.25" fill="#ffc400"/>
<circle cx="2404.34" cy="1539.63" r="3.25" fill="#ffc400"/>
<circle cx="2407.48" cy="1541.09" r="3.25" fill="#ffc500"/>
<circle cx="2410.62" cy="1543.64" r="3.25" fill="#ffc600"/>
<circle cx="2413.76" cy="1546.85" r="3.25" fill="#ffc700"/>
<circle cx="2416.9" cy="1548.34" r="3.25" fill="#ffc800"/>
<circle cx="2420.04" cy="1550.69" r="3.25" fill="#ffc900"/>
<circle cx="2423.18" cy="1546.47" r="3.25" fill="#ffca00"/>
<circle cx="2426.32" cy="1536.03" r="3.25" fill="#ffca00"/>
<circle cx="2429.46" cy="1533.13" r="3.25" fill="#ffcb00"/>
<circle cx="2432.6" cy="1538.78" r="3.25" fill="#ffcc00"/>
<circle cx="2435.74" cy="1547.81" r="3.25" fill="#ffcd00"/>
<circle cx="2438.88" cy="1549.37" r="3.25" fill="#ffce00"/>
<circle cx="2442.02" cy="1544.61" r="3.25" fill="#ffcf00"/>
<circle cx="2445.16" cy="1538.88" r="3.25" fill="#ffd000"/>
<circle cx="2448.3" cy="1537.42" r="3.25" fill="#ffd000"/>
<circle cx="2451.44" cy="1536.59" r="3.25" fill="#ffd100"/>
<circle cx="2454.58" cy="1538.28" r="3.25" fill="#ffd200"/>
<circle cx="2457.72" cy="1539.89" r="3.25" fill="#ffd300"/>
<circle cx="2460.86" cy="1540.89" r="3.25" fill="#ffd400"/>
<circle cx="2464" cy="1541.14" r="3.25" fill="#ffd500"/>
<circle cx="2467.14" cy="1540.43" r="3.25" fill="#ffd600"/>
<circle cx="2470.28" cy="1539.73" r="3.25" fill="#ffd700"/>
<circle cx="2473.42" cy="1539.05" r="3.25" fill="#ffd700"/>
<circle cx="2476.56" cy="1538.54" r="3.25" fill="#ffd800"/>
<circle cx="2479.7" cy="1538.15" r="3.25" fill="#ffd900"/>
<circle cx="2482.84" cy="1537.86" r="3.25" fill="#ffda00"/>
<circle cx="2485.98" cy="1537.61" r="3.25" fill="#ffdb00"/>
<circle cx="2489.12" cy="1537.54" r="3.25" fill="#ffdc00"/>
<circle cx="2492.26" cy="1537.54" r="3.25" fill="#ffdd00"/>
<circle cx="2495.4" cy="1537.73" r="3.25" fill="#ffdd00"/>
<circle cx="2498.54" cy="1537.98" r="3.25" fill="#ffde00"/>
<circle cx="2501.68" cy="1537.63" r="3.25" fill="#ffdf00"/>
<circle cx="2504.82" cy="1537.06" r="3.25" fill="#ffe000"/>
<circle cx="2507.96" cy="1536.29" r="3.25" fill="#ffe100"/>
<circle cx="2511.1" cy="1536.97" r="3.25" fill="#ffe200"/>
<circle cx="2514.24" cy="1539.61" r="3.25" fill="#ffe300"/>
<circle cx="2517.38" cy="1543.36" r="3.25" fill="#ffe300"/>
<circle cx="2520.52" cy="1548.34" r="3.25" fill="#ffe400"/>
<circle cx="2523.66" cy="1552.93" r="3.25" fill="#ffe500"/>
<circle cx="2526.8" cy="1556.78" r="3.25" fill="#ffe600"/>
<circle cx="2529.94" cy="1559.14" r="3.25" fill="#ffe700"/>
<circle cx="2533.08" cy="1559.51" r="3.25" fill="#ffe800"/>
<circle cx="2536.22" cy="1557.3" r="3.25" fill="#ffe900"/>
<circle cx="2539.36" cy="1554.9" r="3.25" fill="#ffe900"/>
<circle cx="2542.5" cy="1550.98" r="3.25" fill="#ffea00"/>
<circle cx="2545.64" cy="1546.54" r="3.25" fill="#ffeb00"/>
<circle cx="2548.78" cy="1543.69" r="3.25" fill="#ffec00"/>
<circle cx="2551.92" cy="1543.64" r="3.25" fill="#ffed00"/>
<circle cx="2555.06" cy="1546.32" r="3.25" fill="#ffee00"/>
<circle cx="2558.2" cy="1551.76" r="3.25" fill="#ffef00"/>
<circle cx="2561.34" cy="1556.95" r="3.25" fill="#ffef00"/>
<circle cx="2564.48" cy="1562.17" r="3.25" fill="#fff000"/>
<circle cx="2567.62" cy="1568.17" r="3.25" fill="#fff100"/>
<circle cx="2570.76" cy="1569.67" r="3.25" fill="#fff200"/>
<circle cx="2573.9" cy="1567.12" r="3.25" fill="#fff300"/>
<circle cx="2577.04" cy="1565.3" r="3.25" fill="#fff400"/>
<circle cx="2580.18" cy="1566.31" r="3.25" fill="#fff500"/>
<circle cx="2583.32" cy="1568.71" r="3.25" fill="#fff600"/>
<circle cx="2586.46" cy="1572" r="3.25" fill="#fff600"/>
<circle cx="2589.6" cy="1570.31" r="3.25" fill="#fff700"/>
<circle cx="2592.74" cy="1560.62" r="3.25" fill="#fff800"/>
<circle cx="2595.88" cy="1556.53" r="3.25" fill="#fff900"/>
<circle cx="2599.02" cy="1557.27" r="3.25" fill="#fffa00"/>
<circle cx="2602.16" cy="1562.24" r="3.25" fill="#fffb00"/>
<circle cx="2605.3" cy="1566.83" r="3.25" fill="#fffc00"/>
<circle cx="2608.44" cy="1564.22" r="3.25" fill="#fffc00"/>
<circle cx="2611.58" cy="1559.23" r="3.25" fill="#fffd00"/>
<circle cx="2614.72" cy="1552.91" r="3.25" fill="#fffe00"/>
<circle cx="2617.86" cy="1547.71" r="3.25" fill="#ffff00"/>
<circle cx="1688.42" cy="1919.5" r="3.25" fill="#8000ff"/>
<circle cx="1691.56" cy="1919.5" r="3.25" fill="#7e03ff"/>
<circle cx="1694.7" cy="1919.5" r="3.25" fill="#7c05ff"/>
<circle cx="1697.84" cy="1919.5" r="3.25" fill="#7a08ff"/>
<circle cx="1700.98" cy="1919.5" r="3.25" fill="#790bff"/>
<circle cx="1704.12" cy="1919.5" r="3.25" fill="#770eff"/>
<circle cx="1707.26" cy="1919.5" r="3.25" fill="#7510ff"/>
<circle cx="1710.4" cy="1919.5" r="3.25" fill="#7313ff"/>
<circle cx="1713.54" cy="1919.5" r="3.25" fill="#7216ff"/>
<circle cx="1716.68" cy="1919.5" r="3.25" fill="#7018ff"/>
<circle cx="1719.82" cy="1919.5" r="3.25" fill="#6e1bff"/>
<circle cx="1722.96" cy="1919.5" r="3.25" fill="#6d1eff"/>
<circle cx="1726.1" cy="1919.5" r="3.25" fill="#6b20fe"/>
<circle cx="1729.24" cy="1919.5" r="3.25" fill="#6923fe"/>
<circle cx="1732.38" cy="1919.5" r="3.25" fill="#6726fe"/>
<circle cx="1735.52" cy="1919.5" r="3.25" fill="#6628fe"/>
<circle cx="1738.66" cy="1919.5" r="3.25" fill="#642bfe"/>
<circle cx="1741.8" cy="1919.5" r="3.25" fill="#622efe"/>
<circle cx="1744.94" cy="1919.5" r="3.25" fill="#6030fe"/>
<circle cx="1748.08" cy="1919.5" r="3.25" fill="#5f33fe"/>
<circle cx="1751.22" cy="1919.5" r="3.25" fill="#5d36fe"/>
<circle cx="1754.36" cy="1919.5" r="3.25" fill="#5b38fd"/>
<circle cx="1757.5" cy="1919.5" r="3.25" fill="#5a3bfd"/>
<circle cx="1760.64" cy="1919.5" r="3.25" fill="#583efd"/>
<circle cx="1763.78" cy="1919.5" r="3.25" fill="#5640fd"/>
<circle cx="1766.92" cy="1919.5" r="3.25" fill="#5443fd"/>
<circle cx="1770.06" cy="1919.5" r="3.25" fill="#5345fd"/>
<circle cx="1773.2" cy="1919.5" r="3.25" fill="#5148fc"/>
<circle cx="1776.34" cy="1919.5" r="3.25" fill="#4f4bfc"/>
<circle cx="1779.48" cy="1919.5" r="3.25" fill="#4e4dfc"/>
<circle cx="1782.62" cy="1919.5" r="3.25" fill="#4c50fc"/>
<circle cx="1785.76" cy="1919.5" r="3.25" fill="#4a52fc"/>
<circle cx="1788.9" cy="1919.5" r="3.25" fill="#4855fb"/>
<circle cx="1792.04" cy="1919.5" r="3.25" fill="#4757fb"/>
<circle cx="1795.18" cy="1919.43" r="3.25" fill="#455afb"/>
<circle cx="1798.32" cy="1918.99" r="3.25" fill="#435dfb"/>
<circle cx="1801.46" cy="1917.53" r="3.25" fill="#415ffa"/>
<circle cx="1804.6" cy="1912.95" r="3.25" fill="#4062fa"/>
<circle cx="1807.74" cy="1908.37" r="3.25" fill="#3e64fa"/>
<circle cx="1810.88" cy="1903.62" r="3.25" fill="#3c67fa"/>
<circle cx="1814.02" cy="1898.81" r="3.25" fill="#3b69f9"/>
<circle cx="1817.16" cy="1899.34" r="3.25" fill="#396bf9"/>
<circle cx="1820.3" cy="1902.34" r="3.25" fill="#376ef9"/>
<circle cx="1823.44" cy="1907.13" r="3.25" fill="#3570f8"/>
<circle cx="1826.58" cy="1912.52" r="3.25" fill="#3473f8"/>
<circle cx="1829.72" cy="1914.8" r="3.25" fill="#3275f8"/>
<circle cx="1832.86" cy="1914.74" r="3.25" fill="#3078f7"/>
<circle cx="1836" cy="1912.1" r="3.25" fill="#2f7af7"/>
<circle cx="1839.14" cy="1899.32" r="3.25" fill="#2d7cf7"/>
<circle cx="1842.28" cy="1881.74" r="3.25" fill="#2b7ff6"/>
<circle cx="1845.42" cy="1862.06" r="3.25" fill="#2981f6"/>
<circle cx="1848.56" cy="1844.61" r="3.25" fill="#2883f6"/>
<circle cx="1851.7" cy="1837.88" r="3.25" fill="#2686f5"/>
<circle cx="1854.84" cy="1838.77" r="3.25" fill="#2488f5"/>
<circle cx="1857.98" cy="1851.13" r="3.25" fill="#228af5"/>
<circle cx="1861.12" cy="1869.14" r="3.25" fill="#218df4"/>
<circle cx="1864.26" cy="1888.47" r="3.25" fill="#1f8ff4"/>
<circle cx="1867.4" cy="1889.99" r="3.25" fill="#1d91f3"/>
<circle cx="1870.54" cy="1877.91" r="3.25" fill="#1c93f3"/>
<circle cx="1873.68" cy="1852.96" r="3.25" fill="#1a95f3"/>
<circle cx="1876.82" cy="1825.8" r="3.25" fill="#1898f2"/>
<circle cx="1879.96" cy="1803.82" r="3.25" fill="#169af2"/>
<circle cx="1883.1" cy="1794.15" r="3.25" fill="#159cf1"/>
<circle cx="1886.24" cy="1796.37" r="3.25" fill="#139ef1"/>
<circle cx="1889.38" cy="1809.78" r="3.25" fill="#11a0f0"/>
<circle cx="1892.52" cy="1825.88" r="3.25" fill="#10a2f0"/>
<circle cx="1895.66" cy="1840.46" r="3.25" fill="#0ea4f0"/>
<circle cx="1898.8" cy="1857.35" r="3.25" fill="#0ca6ef"/>
<circle cx="1901.94" cy="1875.8" r="3.25" fill="#0aa8ef"/>
<circle cx="1905.08" cy="1889.79" r="3.25" fill="#09aaee"/>
<circle cx="1908.22" cy="1899.09" r="3.25" fill="#07acee"/>
<circle cx="1911.36" cy="1907.38" r="3.25" fill="#05aeed"/>
<circle cx="1914.5" cy="1912.58" r="3.25" fill="#03b0ed"/>
<circle cx="1917.64" cy="1915.49" r="3.25" fill="#02b2ec"/>
<circle cx="1920.78" cy="1917.08" r="3.25" fill="#00b4ec"/>
<circle cx="1923.92" cy="1918.28" r="3.25" fill="#02b6eb"/>
<circle cx="1927.06" cy="1918.55" r="3.25" fill="#03b8eb"/>
<circle cx="1930.2" cy="1918.82" r="3.25" fill="#05baea"/>
<circle cx="1933.34" cy="1918.02" r="3.25" fill="#07bce9"/>
<circle cx="1936.48" cy="1917.23" r="3.25" fill="#09bee9"/>
<circle cx="1939.62" cy="1915.83" r="3.25" fill="#0abfe8"/>
<circle cx="1942.76" cy="1913.06" r="3.25" fill="#0cc1e8"/>
<circle cx="1945.9" cy="1911.21" r="3.25" fill="#0ec3e7"/>
<circle cx="1949.04" cy="1910.52" r="3.25" fill="#10c5e7"/>
<circle cx="1952.18" cy="1911.94" r="3.25" fill="#11c6e6"/>
<circle cx="1955.32" cy="1914" r="3.25" fill="#13c8e5"/>
<circle cx="1958.46" cy="1916.29" r="3.25" fill="#15cae5"/>
<circle cx="1961.6" cy="1914.34" r="3.25" fill="#16cbe4"/>
<circle cx="1964.74" cy="1911.68" r="3.25" fill="#18cde4"/>
<circle cx="1967.88" cy="1906.9" r="3.25" fill="#1acfe3"/>
<circle cx="1971.02" cy="1901.48" r="3.25" fill="#1cd0e2"/>
<circle cx="1974.16" cy="1895.63" r="3.25" fill="#1dd2e2"/>
<circle cx="1977.3" cy="1892.25" r="3.25" fill="#1fd3e1"/>
<circle cx="1980.44" cy="1889.67" r="3.25" fill="#21d5e1"/>
<circle cx="1983.58" cy="1893.2" r="3.25" fill="#22d6e0"/>
<circle cx="1986.72" cy="1899.78" r="3.25" fill="#24d8df"/>
<circle cx="1989.86" cy="1909.85" r="3.25" fill="#26d9df"/>
<circle cx="1993" cy="1915.4" r="3.25" fill="#28dbde"/>
<circle cx="1996.14" cy="1913.18" r="3.25" fill="#29dcdd"/>
<circle cx="1999.28" cy="1911.18" r="3.25" fill="#2bdddd"/>
<circle cx="2002.42" cy="1910.32" r="3.25" fill="#2ddfdc"/>
<circle cx="2005.56" cy="1912.86" r="3.25" fill="#2fe0db"/>
<circle cx="2008.7" cy="1914.98" r="3.25" fill="#30e1db"/>
<circle cx="2011.84" cy="1916.32" r="3.25" fill="#32e2da"/>
<circle cx="2014.98" cy="1913.4" r="3.25" fill="#34e4d9"/>
<circle cx="2018.12" cy="1908.7" r="3.25" fill="#35e5d8"/>
<circle cx="2021.26" cy="1900.68" r="3.25" fill="#37e6d8"/>
<circle cx="2024.4" cy="1887.96" r="3.25" fill="#39e7d7"/>
<circle cx="2027.54" cy="1876.74" r="3.25" fill="#3be8d6"/>
<circle cx="2030.68" cy="1868.77" r="3.25" fill="#3ce9d6"/>
<circle cx="2033.82" cy="1862.33" r="3.25" fill="#3eebd5"/>
<circle cx="2036.96" cy="1856.5" r="3.25" fill="#40ecd4"/>
<circle cx="2040.1" cy="1851.03" r="3.25" fill="#41edd3"/>
<circle cx="2043.24" cy="1845.23" r="3.25" fill="#43eed3"/>
<circle cx="2046.38" cy="1836.6" r="3.25" fill="#45efd2"/>
<circle cx="2049.52" cy="1826.2" r="3.25" fill="#47f0d1"/>
<circle cx="2052.66" cy="1817.09" r="3.25" fill="#48f0d0"/>
<circle cx="2055.8" cy="1814.48" r="3.25" fill="#4af1cf"/>
<circle cx="2058.94" cy="1816.63" r="3.25" fill="#4cf2cf"/>
<circle cx="2062.08" cy="1821.68" r="3.25" fill="#4ef3ce"/>
<circle cx="2065.22" cy="1823.15" r="3.25" fill="#4ff4cd"/>
<circle cx="2068.36" cy="1820.79" r="3.25" fill="#51f5cc"/>
<circle cx="2071.5" cy="1815.41" r="3.25" fill="#53f5cb"/>
<circle cx="2074.64" cy="1806.3" r="3.25" fill="#54f6cb"/>
<circle cx="2077.78" cy="1791.96" r="3.25" fill="#56f7ca"/>
<circle cx="2080.92" cy="1770.22" r="3.25" fill="#58f7c9"/>
<circle cx="2084.06" cy="1750.64" r="3.25" fill="#5af8c8"/>
<circle cx="2087.2" cy="1735.9" r="3.25" fill="#5bf9c7"/>
<circle cx="2090.34" cy="1721.31" r="3.25" fill="#5df9c6"/>
<circle cx="2093.48" cy="1707.01" r="3.25" fill="#5ffac6"/>
<circle cx="2096.62" cy="1693.2" r="3.25" fill="#60fac5"/>
<circle cx="2099.76" cy="1680.56" r="3.25" fill="#62fbc4"/>
<circle cx="2102.9" cy="1670.36" r="3.25" fill="#64fbc3"/>
<circle cx="2106.04" cy="1662.54" r="3.25" fill="#66fcc2"/>
<circle cx="2109.18" cy="1657.9" r="3.25" fill="#67fcc1"/>
<circle cx="2112.32" cy="1646.53" r="3.25" fill="#69fdc0"/>
<circle cx="2115.46" cy="1634.32" r="3.25" fill="#6bfdbf"/>
<circle cx="2118.6" cy="1621.86" r="3.25" fill="#6dfdbf"/>
<circle cx="2121.74" cy="1611.42" r="3.25" fill="#6efebe"/>
<circle cx="2124.88" cy="1601.96" r="3.25" fill="#70febd"/>
<circle cx="2128.02" cy="1600.1" r="3.25" fill="#72febc"/>
<circle cx="2131.16" cy="1593.95" r="3.25" fill="#73febb"/>
<circle cx="2134.3" cy="1571.55" r="3.25" fill="#75feba"/>
<circle cx="2137.44" cy="1538.78" r="3.25" fill="#77ffb9"/>
<circle cx="2140.58" cy="1500.67" r="3.25" fill="#79ffb8"/>
<circle cx="2143.72" cy="1467.77" r="3.25" fill="#7affb7"/>
<circle cx="2146.86" cy="1446.92" r="3.25" fill="#7cffb6"/>
<circle cx="2150" cy="1433.14" r="3.25" fill="#7effb5"/>
<circle cx="2153.14" cy="1424.57" r="3.25" fill="#80ffb4"/>
<circle cx="2156.28" cy="1421.84" r="3.25" fill="#81ffb3"/>
<circle cx="2159.42" cy="1424.57" r="3.25" fill="#83ffb2"/>
<circle cx="2162.56" cy="1425.19" r="3.25" fill="#85ffb1"/>
<circle cx="2165.7" cy="1421.39" r="3.25" fill="#86ffb0"/>
<circle cx="2168.84" cy="1408.88" r="3.25" fill="#88ffaf"/>
<circle cx="2171.98" cy="1393.22" r="3.25" fill="#8afeae"/>
<circle cx="2175.12" cy="1385.26" r="3.25" fill="#8cfead"/>
<circle cx="2178.26" cy="1391.89" r="3.25" fill="#8dfeac"/>
<circle cx="2181.4" cy="1405.26" r="3.25" fill="#8ffeab"/>
<circle cx="2184.54" cy="1432.54" r="3.25" fill="#91feaa"/>
<circle cx="2187.68" cy="1453.19" r="3.25" fill="#92fda9"/>
<circle cx="2190.82" cy="1465.12" r="3.25" fill="#94fda8"/>
<circle cx="2193.96" cy="1457.31" r="3.25" fill="#96fda7"/>
<circle cx="2197.1" cy="1435.74" r="3.25" fill="#98fca6"/>
<circle cx="2200.24" cy="1416.57" r="3.25" fill="#99fca5"/>
<circle cx="2203.38" cy="1407.89" r="3.25" fill="#9bfba4"/>
<circle cx="2206.52" cy="1403.4" r="3.25" fill="#9dfba3"/>
<circle cx="2209.66" cy="1398.24" r="3.25" fill="#9ffaa2"/>
<circle cx="2212.8" cy="1385.92" r="3.25" fill="#a0faa1"/>
<circle cx="2215.94" cy="1364.08" r="3.25" fill="#a2f9a0"/>
<circle cx="2219.08" cy="1340.35" r="3.25" fill="#a4f99f"/>
<circle cx="2222.22" cy="1320.17" r="3.25" fill="#a5f89e"/>
<circle cx="2225.36" cy="1305.05" r="3.25" fill="#a7f79d"/>
<circle cx="2228.5" cy="1287.28" r="3.25" fill="#a9f79c"/>
<circle cx="2231.64" cy="1266.18" r="3.25" fill="#abf69b"/>
<circle cx="2234.78" cy="1256.87" r="3.25" fill="#acf59a"/>
<circle cx="2237.92" cy="1252.55" r="3.25" fill="#aef599"/>
<circle cx="2241.06" cy="1248.04" r="3.25" fill="#b0f498"/>
<circle cx="2244.2" cy="1240.05" r="3.25" fill="#b1f397"/>
<circle cx="2247.34" cy="1234.77" r="3.25" fill="#b3f295"/>
<circle cx="2250.48" cy="1239.14" r="3.25" fill="#b5f194"/>
<circle cx="2253.62" cy="1236.42" r="3.25" fill="#b7f093"/>
<circle cx="2256.76" cy="1234.15" r="3.25" fill="#b8f092"/>
<circle cx="2259.9" cy="1253.02" r="3.25" fill="#baef91"/>
<circle cx="2263.04" cy="1279.83" r="3.25" fill="#bcee90"/>
<circle cx="2266.18" cy="1304.87" r="3.25" fill="#beed8f"/>
<circle cx="2269.32" cy="1318.1" r="3.25" fill="#bfec8e"/>
<circle cx="2272.46" cy="1310.49" r="3.25" fill="#c1eb8d"/>
<circle cx="2275.6" cy="1292.62" r="3.25" fill="#c3e98b"/>
<circle cx="2278.74" cy="1267.98" r="3.25" fill="#c4e88a"/>
<circle cx="2281.88" cy="1255.7" r="3.25" fill="#c6e789"/>
<circle cx="2285.02" cy="1246.14" r="3.25" fill="#c8e688"/>
<circle cx="2288.16" cy="1244.17" r="3.25" fill="#cae587"/>
<circle cx="2291.3" cy="1252.68" r="3.25" fill="#cbe486"/>
<circle cx="2294.44" cy="1260.18" r="3.25" fill="#cde285"/>
<circle cx="2297.58" cy="1264.57" r="3.25" fill="#cfe183"/>
<circle cx="2300.72" cy="1266.92" r="3.25" fill="#d0e082"/>
<circle cx="2303.86" cy="1266.92" r="3.25" fill="#d2df81"/>
<circle cx="2307" cy="1257.61" r="3.25" fill="#d4dd80"/>
<circle cx="2310.14" cy="1249.54" r="3.25" fill="#d6dc7f"/>
<circle cx="2313.28" cy="1242.09" r="3.25" fill="#d7db7e"/>
<circle cx="2316.42" cy="1228.04" r="3.25" fill="#d9d97c"/>
<circle cx="2319.56" cy="1211.95" r="3.25" fill="#dbd87b"/>
<circle cx="2322.7" cy="1194.92" r="3.25" fill="#ddd67a"/>
<circle cx="2325.84" cy="1180.9" r="3.25" fill="#ded579"/>
<circle cx="2328.98" cy="1166.89" r="3.25" fill="#e0d378"/>
<circle cx="2332.12" cy="1160.44" r="3.25" fill="#e2d276"/>
<circle cx="2335.26" cy="1156.94" r="3.25" fill="#e3d075"/>
<circle cx="2338.4" cy="1165.67" r="3.25" fill="#e5cf74"/>
<circle cx="2341.54" cy="1178.39" r="3.25" fill="#e7cd73"/>
<circle cx="2344.68" cy="1192.99" r="3.25" fill="#e9cb72"/>
<circle cx="2347.82" cy="1207.65" r="3.25" fill="#eaca70"/>
<circle cx="2350.96" cy="1220.37" r="3.25" fill="#ecc86f"/>
<circle cx="2354.1" cy="1231.73" r="3.25" fill="#eec66e"/>
<circle cx="2357.24" cy="1248.55" r="3.25" fill="#efc56d"/>
<circle cx="2360.38" cy="1264.69" r="3.25" fill="#f1c36b"/>
<circle cx="2363.52" cy="1278.84" r="3.25" fill="#f3c16a"/>
<circle cx="2366.66" cy="1300.54" r="3.25" fill="#f5bf69"/>
<circle cx="2369.8" cy="1319.55" r="3.25" fill="#f6be68"/>
<circle cx="2372.94" cy="1322.72" r="3.25" fill="#f8bc67"/>
<circle cx="2376.08" cy="1325.76" r="3.25" fill="#faba65"/>
<circle cx="2379.22" cy="1334.76" r="3.25" fill="#fcb864"/>
<circle cx="2382.36" cy="1341.4" r="3.25" fill="#fdb663"/>
<circle cx="2385.5" cy="1352.82" r="3.25" fill="#ffb462"/>
<circle cx="2388.64" cy="1366.7" r="3.25" fill="#ffb260"/>
<circle cx="2391.78" cy="1378.47" r="3.25" fill="#ffb05f"/>
<circle cx="2394.92" cy="1390.51" r="3.25" fill="#ffae5e"/>
<circle cx="2398.06" cy="1401.68" r="3.25" fill="#ffac5d"/>
<circle cx="2401.2" cy="1410.42" r="3.25" fill="#ffaa5b"/>
<circle cx="2404.34" cy="1419.96" r="3.25" fill="#ffa85a"/>
<circle cx="2407.48" cy="1429.25" r="3.25" fill="#ffa659"/>
<circle cx="2410.62" cy="1437.55" r="3.25" fill="#ffa457"/>
<circle cx="2413.76" cy="1444.91" r="3.25" fill="#ffa256"/>
<circle cx="2416.9" cy="1449.73" r="3.25" fill="#ffa055"/>
<circle cx="2420.04" cy="1454.08" r="3.25" fill="#ff9e54"/>
<circle cx="2423.18" cy="1450.43" r="3.25" fill="#ff9c52"/>
<circle cx="2426.32" cy="1437.73" r="3.25" fill="#ff9a51"/>
<circle cx="2429.46" cy="1431.32" r="3.25" fill="#ff9850"/>
<circle cx="2432.6" cy="1433.93" r="3.25" fill="#ff954f"/>
<circle cx="2435.74" cy="1440.76" r="3.25" fill="#ff934d"/>
<circle cx="2438.88" cy="1440.31" r="3.25" fill="#ff914c"/>
<circle cx="2442.02" cy="1430.95" r="3.25" fill="#ff8f4b"/>
<circle cx="2445.16" cy="1418.22" r="3.25" fill="#ff8d49"/>
<circle cx="2448.3" cy="1406.83" r="3.25" fill="#ff8a48"/>
<circle cx="2451.44" cy="1391.6" r="3.25" fill="#ff8847"/>
<circle cx="2454.58" cy="1373.93" r="3.25" fill="#ff8645"/>
<circle cx="2457.72" cy="1351.46" r="3.25" fill="#ff8344"/>
<circle cx="2460.86" cy="1328.92" r="3.25" fill="#ff8143"/>
<circle cx="2464" cy="1312.51" r="3.25" fill="#ff7f42"/>
<circle cx="2467.14" cy="1307.97" r="3.25" fill="#ff7c40"/>
<circle cx="2470.28" cy="1311.44" r="3.25" fill="#ff7a3f"/>
<circle cx="2473.42" cy="1313.12" r="3.25" fill="#ff783e"/>
<circle cx="2476.56" cy="1311.37" r="3.25" fill="#ff753c"/>
<circle cx="2479.7" cy="1308.13" r="3.25" fill="#ff733b"/>
<circle cx="2482.84" cy="1300.99" r="3.25" fill="#ff703a"/>
<circle cx="2485.98" cy="1290.92" r="3.25" fill="#ff6e38"/>
<circle cx="2489.12" cy="1285.75" r="3.25" fill="#ff6b37"/>
<circle cx="2492.26" cy="1284.92" r="3.25" fill="#ff6936"/>
<circle cx="2495.4" cy="1282.76" r="3.25" fill="#ff6734"/>
<circle cx="2498.54" cy="1272.36" r="3.25" fill="#ff6433"/>
<circle cx="2501.68" cy="1257.34" r="3.25" fill="#ff6232"/>
<circle cx="2504.82" cy="1237.52" r="3.25" fill="#ff5f30"/>
<circle cx="2507.96" cy="1229.31" r="3.25" fill="#ff5d2f"/>
<circle cx="2511.1" cy="1226.38" r="3.25" fill="#ff5a2e"/>
<circle cx="2514.24" cy="1237.61" r="3.25" fill="#ff572c"/>
<circle cx="2517.38" cy="1252.76" r="3.25" fill="#ff552b"/>
<circle cx="2520.52" cy="1278.53" r="3.25" fill="#ff522a"/>
<circle cx="2523.66" cy="1303.21" r="3.25" fill="#ff5028"/>
<circle cx="2526.8" cy="1323.02" r="3.25" fill="#ff4d27"/>
<circle cx="2529.94" cy="1335.12" r="3.25" fill="#ff4b26"/>
<circle cx="2533.08" cy="1333.46" r="3.25" fill="#ff4824"/>
<circle cx="2536.22" cy="1319.44" r="3.25" fill="#ff4523"/>
<circle cx="2539.36" cy="1302.06" r="3.25" fill="#ff4322"/>
<circle cx="2542.5" cy="1283.79" r="3.25" fill="#ff4020"/>
<circle cx="2545.64" cy="1268.2" r="3.25" fill="#ff3e1f"/>
<circle cx="2548.78" cy="1259.16" r="3.25" fill="#ff3b1e"/>
<circle cx="2551.92" cy="1255.41" r="3.25" fill="#ff381c"/>
<circle cx="2555.06" cy="1255.72" r="3.25" fill="#ff361b"/>
<circle cx="2558.2" cy="1259.42" r="3.25" fill="#ff331a"/>
<circle cx="2561.34" cy="1263.47" r="3.25" fill="#ff3018"/>
<circle cx="2564.48" cy="1268.47" r="3.25" fill="#ff2e17"/>
<circle cx="2567.62" cy="1277.57" r="3.25" fill="#ff2b16"/>
<circle cx="2570.76" cy="1283.17" r="3.25" fill="#ff2814"/>
<circle cx="2573.9" cy="1284.77" r="3.25" fill="#ff2613"/>
<circle cx="2577.04" cy="1286.21" r="3.25" fill="#ff2312"/>
<circle cx="2580.18" cy="1291.66" r="3.25" fill="#ff2010"/>
<circle cx="2583.32" cy="1297.06" r="3.25" fill="#ff1e0f"/>
<circle cx="2586.46" cy="1302.5" r="3.25" fill="#ff1b0e"/>
<circle cx="2589.6" cy="1299.34" r="3.25" fill="#ff180c"/>
<circle cx="2592.74" cy="1287.5" r="3.25" fill="#ff160b"/>
<circle cx="2595.88" cy="1280.33" r="3.25" fill="#ff1309"/>
<circle cx="2599.02" cy="1280.08" r="3.25" fill="#ff1008"/>
<circle cx="2602.16" cy="1285.04" r="3.25" fill="#ff0e07"/>
<circle cx="2605.3" cy="1291.13" r="3.25" fill="#ff0b05"/>
<circle cx="2608.44" cy="1291.62" r="3.25" fill="#ff0804"/>
<circle cx="2611.58" cy="1289.96" r="3.25" fill="#ff0503"/>
<circle cx="2614.72" cy="1285.81" r="3.25" fill="#ff0301"/>
<circle cx="2617.86" cy="1282.31" r="3.25" fill="#ff0000"/>
</g>
<path d="M1679 2002V1112M1836 2002V1112M1993 2002V1112M2150 2002V1112M2307 2002V1112M2464 2002V1112M2621 2002V1112M1679 1919.5H2621M1679 1795.36H2621M1679 1671.23H2621M1679 1547.09H2621M1679 1422.96H2621M1679 1298.82H2621M1679 1174.69H2621" class="grid"/>
<path d="M1679 2002v8.3M1836 2002v8.3M1993 2002v8.3M2150 2002v8.3M2307 2002v8.3M2464 2002v8.3M2621 2002v8.3M1679 1919.5h-8.3M1679 1795.36h-8.3M1679 1671.23h-8.3M1679 1547.09h-8.3M1679 1422.96h-8.3M1679 1298.82h-8.3M1679 1174.69h-8.3" class="tick"/>
<rect x="1679" y="1112" width="942" height="890" class="spine"/>
<text transform="matrix(0.5859 0 0 0.5932 1661.91 2059.8)" font-size="100" x="2.15">0</text>
<text transform="matrix(0.5859 0 0 0.5932 1800.91 2059.8)" font-size="100" x="1.92 62.31">50</text>
<text transform="matrix(0.5859 0 0 0.5932 1939.42 2059.8)" font-size="100" x="1.84 62.31 122.47">100</text>
<text transform="matrix(0.5859 0 0 0.5932 2096.42 2059.8)" font-size="100" x="1.84 62.08 122.47">150</text>
<text transform="matrix(0.5859 0 0 0.5932 2254.45 2059.8)" font-size="100" x="1.09 62.31 122.47">200</text>
<text transform="matrix(0.5859 0 0 0.5932 2411.45 2059.8)" font-size="100" x="1.09 62.08 122.47">250</text>
<text transform="matrix(0.5859 0 0 0.5932 2568.39 2059.8)" font-size="100" x="2.4 62.31 122.47">300</text>
<text transform="matrix(0.5859 0 0 0.5932 1574.59 1940.95)" font-size="100" x="2.15 61.3 92.36">0.0</text>
<text transform="matrix(0.5859 0 0 0.5932 1574.59 1816.82)" font-size="100" x="2.15 61.3 92.06">0.1</text>
<text transform="matrix(0.5859 0 0 0.5932 1574.59 1692.68)" font-size="100" x="2.15 61.3 91.31">0.2</text>
<text transform="matrix(0.5859 0 0 0.5932 1574.59 1568.55)" font-size="100" x="2.15 61.3 92.62">0.3</text>
<text transform="matrix(0.5859 0 0 0.5932 1574.59 1444.41)" font-size="100" x="2.15 61.3 92.38">0.4</text>
<text transform="matrix(0.5859 0 0 0.5932 1574.59 1320.28)" font-size="100" x="2.15 61.3 92.13">0.5</text>
<text transform="matrix(0.5859 0 0 0.5932 1574.59 1196.14)" font-size="100" x="2.15 61.3 92.47">0.6</text>
<rect x="2626.1" y="1112" width="44.9" height="890" fill="url(#rb)" class="spine"/>
<path d="M2671 1112h7.6M2671 1561.51h7.6" class="tick"/>
<text transform="matrix(0.4252 0 0 0.4304 2686.2 1126.92)" font-size="100" x="1.09 61.95 122.11 181.62 212.68">299.0</text>
<text transform="matrix(0.4252 0 0 0.4304 2686.2 1576.43)" font-size="100" x="1.84 62.33 122.11 181.62 212.46">149.5</text>
<g transform="translate(2852 1627.39) rotate(-90)">
<text transform="matrix(0.7404 0 0 0.5942 0.27 -0.36)" font-size="100" font-style="italic">t</text>
<text transform="matrix(0.5748 0 0 0.5302 40.38 -3.43)" font-size="100">[</text>
<text transform="matrix(0.6041 0 0 0.5882 58.21 0.23)" font-size="100" font-style="italic">T</text>
<text transform="matrix(0.4101 0 0 0.4152 96 9.42)" font-size="100">0</text>
<text transform="matrix(0.5748 0 0 0.5302 126.26 -3.43)" font-size="100">]</text>
</g>
</g>
<text transform="matrix(0.6026 0 0 0.5750 589.21 1056.23)" font-size="100" font-style="italic">x</text>
<text transform="matrix(0.5900 0 0 0.5302 662.07 1052.57)" font-size="100">[</text>
<text transform="matrix(0.6136 0 0 0.5809 688.43 1056.54)" font-size="100" font-style="italic">μ</text>
<text transform="matrix(0.6286 0 0 0.5772 742 1056.23)" font-size="100" font-style="italic">m</text>
<text transform="matrix(0.5900 0 0 0.5302 803.66 1052.57)" font-size="100">]</text>
<g transform="translate(39.5 604.35) rotate(-90)">
<text transform="matrix(0.5630 0 0 0.5691 3.24 -0.08)" font-size="100" font-style="italic">y</text>
<text transform="matrix(0.5900 0 0 0.5302 75.27 -3.43)" font-size="100">[</text>
<text transform="matrix(0.6136 0 0 0.5809 101.63 0.54)" font-size="100" font-style="italic">μ</text>
<text transform="matrix(0.6286 0 0 0.5772 155.2 0.23)" font-size="100" font-style="italic">m</text>
<text transform="matrix(0.5900 0 0 0.5302 216.86 -3.43)" font-size="100">]</text>
</g>
<text transform="matrix(0.5962 0 0 0.5750 2078.56 1056.23)" font-size="100" font-style="italic">v</text>
<text transform="matrix(0.4271 0 0 0.4025 2111.33 1065.25)" font-size="100" font-style="italic">x</text>
<text transform="matrix(0.5748 0 0 0.5302 2153.7 1052.57)" font-size="100">[</text>
<text transform="matrix(0.5934 0 0 0.5818 2175.18 1056.48)" font-size="100" font-style="italic">c</text>
<text transform="matrix(0.5748 0 0 0.5302 2210.04 1052.57)" font-size="100">]</text>
<g transform="translate(1464.8 562.08) rotate(-90)">
<text transform="matrix(0.5962 0 0 0.5750 0.74 0.23)" font-size="100" font-style="italic">v</text>
<text transform="matrix(0.4006 0 0 0.3984 34.1 9.04)" font-size="100" font-style="italic">y</text>
<text transform="matrix(0.5748 0 0 0.5302 75.88 -3.43)" font-size="100">[</text>
<text transform="matrix(0.5934 0 0 0.5818 97.36 0.48)" font-size="100" font-style="italic">c</text>
<text transform="matrix(0.5748 0 0 0.5302 132.21 -3.43)" font-size="100">]</text>
</g>
<text transform="matrix(0.6767 0 0 0.5772 617.97 2124.23)" font-size="100" font-style="italic">r</text>
<text transform="matrix(0.5748 0 0 0.5302 658.65 2120.57)" font-size="100">[</text>
<text transform="matrix(0.6066 0 0 0.5809 680.09 2124.54)" font-size="100" font-style="italic">μ</text>
<text transform="matrix(0.6259 0 0 0.5772 715.65 2124.23)" font-size="100" font-style="italic">m</text>
<text transform="matrix(0.5748 0 0 0.5302 773.71 2120.57)" font-size="100">]</text>
<g transform="translate(24 1626.28) rotate(-90)">
<text transform="matrix(0.5962 0 0 0.5750 0.74 0.23)" font-size="100" font-style="italic">v</text>
<text transform="matrix(0.4737 0 0 0.4040 33.3 9.25)" font-size="100" font-style="italic">r</text>
<text transform="matrix(0.5748 0 0 0.5302 68.88 -3.43)" font-size="100">[</text>
<text transform="matrix(0.5934 0 0 0.5818 90.36 0.48)" font-size="100" font-style="italic">c</text>
<text transform="matrix(0.5748 0 0 0.5302 125.21 -3.43)" font-size="100">]</text>
</g>
<text transform="matrix(0.7404 0 0 0.5942 2081.58 2123.64)" font-size="100" font-style="italic">t</text>
<text transform="matrix(0.5748 0 0 0.5302 2121.69 2120.57)" font-size="100">[</text>
<text transform="matrix(0.6041 0 0 0.5882 2139.52 2124.23)" font-size="100" font-style="italic">T</text>
<text transform="matrix(0.4101 0 0 0.4152 2177.31 2133.42)" font-size="100">0</text>
<text transform="matrix(0.5748 0 0 0.5302 2207.57 2120.57)" font-size="100">]</text>
<g transform="translate(1553.6 1725.73) rotate(-90)">
<text transform="matrix(0.5155 0 0 0.5882 -0.02 0.08)" font-size="100" font-style="italic">E</text>
<text transform="matrix(0.6097 0 0 0.5807 35.86 0.08)" font-size="100" font-style="italic">k</text>
<text transform="matrix(0.5481 0 0 0.5882 85.5 0.08)" font-size="100" font-style="italic">W</text>
<text transform="matrix(0.5748 0 0 0.5302 158.46 -3.58)" font-size="100">[</text>
<text transform="matrix(0.6259 0 0 0.5772 180.22 0.08)" font-size="100" font-style="italic">m</text>
<text transform="matrix(0.4176 0 0 0.4073 233.7 9.28)" font-size="100" font-style="italic">e</text>
<text transform="matrix(0.5934 0 0 0.5818 259.23 0.33)" font-size="100" font-style="italic">c</text>
<text transform="matrix(0.3963 0 0 0.4128 292.5 -20.97)" font-size="100">2</text>
<text transform="matrix(0.5748 0 0 0.5302 322.81 -3.58)" font-size="100">]</text>
</g>
</svg>
</body></html>
